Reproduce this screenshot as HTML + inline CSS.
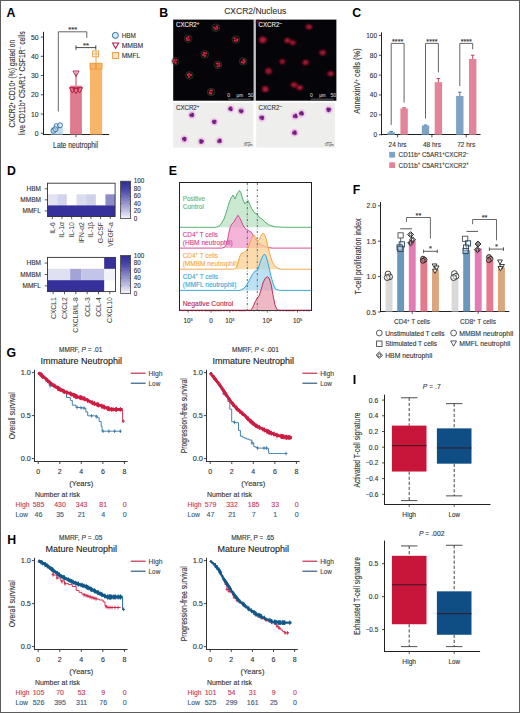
<!DOCTYPE html>
<html><head><meta charset="utf-8"><title>Figure</title>
<style>
html,body{margin:0;padding:0;background:#fff;}
body{width:520px;height:713px;overflow:hidden;}
svg{display:block;font-family:"Liberation Sans",sans-serif;}
</style></head><body>
<svg width="520" height="713" viewBox="0 0 520 713">
<defs>
<linearGradient id="cbgrad" x1="0" y1="1" x2="0" y2="0">
<stop offset="0" stop-color="#f6f6fc"/><stop offset="0.25" stop-color="#b8b8de"/><stop offset="0.5" stop-color="#8282c4"/><stop offset="0.75" stop-color="#4c4aaa"/><stop offset="1" stop-color="#2e2a92"/>
</linearGradient>
<filter id="blur1" x="-5%" y="-5%" width="110%" height="110%"><feGaussianBlur stdDeviation="0.55"/></filter>
<filter id="blur3" x="-5%" y="-5%" width="110%" height="110%"><feGaussianBlur stdDeviation="1.0"/></filter>
<filter id="blur2" x="-5%" y="-5%" width="110%" height="110%"><feGaussianBlur stdDeviation="0.45"/></filter>
</defs>
<rect x="0" y="0" width="520" height="713" fill="#fff"/>
<text x="6.6" y="16.8" font-size="12.3" text-anchor="start" fill="#000" font-weight="bold"  style="">A</text>
<text x="159.2" y="16.7" font-size="12.3" text-anchor="start" fill="#000" font-weight="bold"  style="">B</text>
<text x="352.2" y="16.9" font-size="12.3" text-anchor="start" fill="#000" font-weight="bold"  style="">C</text>
<text x="7" y="174.9" font-size="12.3" text-anchor="start" fill="#000" font-weight="bold"  style="">D</text>
<text x="168.7" y="175" font-size="12.3" text-anchor="start" fill="#000" font-weight="bold"  style="">E</text>
<text x="352.8" y="193.9" font-size="12.3" text-anchor="start" fill="#000" font-weight="bold"  style="">F</text>
<text x="6.6" y="357.2" font-size="12.3" text-anchor="start" fill="#000" font-weight="bold"  style="">G</text>
<text x="7.2" y="544" font-size="12.3" text-anchor="start" fill="#000" font-weight="bold"  style="">H</text>
<text x="352.8" y="384" font-size="12.3" text-anchor="start" fill="#000" font-weight="bold"  style="">I</text>
<line x1="43.5" y1="31.8" x2="43.5" y2="134.9" stroke="#222" stroke-width="1.0" />
<line x1="43" y1="134.5" x2="109.2" y2="134.5" stroke="#222" stroke-width="1.0" />
<line x1="76" y1="134.5" x2="76" y2="137.2" stroke="#222" stroke-width="0.8" />
<line x1="40.8" y1="133.3" x2="43.5" y2="133.3" stroke="#222" stroke-width="0.8" />
<text x="38.6" y="135.8" font-size="6.9" text-anchor="end" fill="#333" font-weight="normal" stroke="#333" stroke-width="0.12" textLength="3.8" lengthAdjust="spacingAndGlyphs"  style="">0</text>
<line x1="40.8" y1="114.05" x2="43.5" y2="114.05" stroke="#222" stroke-width="0.8" />
<text x="38.6" y="116.55" font-size="6.9" text-anchor="end" fill="#333" font-weight="normal" stroke="#333" stroke-width="0.12" textLength="7.6" lengthAdjust="spacingAndGlyphs"  style="">10</text>
<line x1="40.8" y1="94.8" x2="43.5" y2="94.8" stroke="#222" stroke-width="0.8" />
<text x="38.6" y="97.3" font-size="6.9" text-anchor="end" fill="#333" font-weight="normal" stroke="#333" stroke-width="0.12" textLength="7.6" lengthAdjust="spacingAndGlyphs"  style="">20</text>
<line x1="40.8" y1="75.55" x2="43.5" y2="75.55" stroke="#222" stroke-width="0.8" />
<text x="38.6" y="78.05" font-size="6.9" text-anchor="end" fill="#333" font-weight="normal" stroke="#333" stroke-width="0.12" textLength="7.6" lengthAdjust="spacingAndGlyphs"  style="">30</text>
<line x1="40.8" y1="56.3" x2="43.5" y2="56.3" stroke="#222" stroke-width="0.8" />
<text x="38.6" y="58.8" font-size="6.9" text-anchor="end" fill="#333" font-weight="normal" stroke="#333" stroke-width="0.12" textLength="7.6" lengthAdjust="spacingAndGlyphs"  style="">40</text>
<line x1="40.8" y1="37.05" x2="43.5" y2="37.05" stroke="#222" stroke-width="0.8" />
<text x="38.6" y="39.55" font-size="6.9" text-anchor="end" fill="#333" font-weight="normal" stroke="#333" stroke-width="0.12" textLength="7.6" lengthAdjust="spacingAndGlyphs"  style="">50</text>
<text x="75.6" y="148.3" font-size="8.4" text-anchor="middle" fill="#333" font-weight="normal" stroke="#333" stroke-width="0.12" textLength="45" lengthAdjust="spacingAndGlyphs"  style="">Late neutrophil</text>
<text transform="translate(15.34,83.6) rotate(-90)" x="0" y="0" font-size="8.4" text-anchor="middle" fill="#333" stroke="#333" stroke-width="0.12" textLength="88" lengthAdjust="spacingAndGlyphs">CXCR2<tspan dy="-2.8" font-size="5.2">+</tspan><tspan dy="2.8"> CD10</tspan><tspan dy="-2.8" font-size="5.2">+</tspan><tspan dy="2.8"> (%) gated on</tspan></text>
<text transform="translate(24.54,83.2) rotate(-90)" x="0" y="0" font-size="8.4" text-anchor="middle" fill="#333" stroke="#333" stroke-width="0.12" textLength="104" lengthAdjust="spacingAndGlyphs">live CD11b<tspan dy="-2.8" font-size="5.2">+</tspan><tspan dy="2.8"> C5AR1</tspan><tspan dy="-2.8" font-size="5.2">+</tspan><tspan dy="2.8"> CSF1R</tspan><tspan dy="-2.8" font-size="5.2">−</tspan><tspan dy="2.8"> cells</tspan></text>
<rect x="51" y="127.33" width="11.8" height="7.17" fill="#c2dbee" stroke="none" stroke-width="0.8" />
<rect x="70.1" y="85.6" width="11.8" height="48.9" fill="#e07a8d" stroke="none" stroke-width="0.8" />
<rect x="90" y="63" width="12.1" height="71.5" fill="#f8b467" stroke="none" stroke-width="0.8" />
<line x1="76" y1="85.6" x2="76" y2="72" stroke="#c0304d" stroke-width="0.9" />
<line x1="96" y1="63" x2="96" y2="51" stroke="#f0a040" stroke-width="0.9" />
<circle cx="53.4" cy="130.8" r="2.5" fill="#cfe4f3" fill-opacity="0.55" stroke="#2d6da6" stroke-width="0.9"/>
<circle cx="56.6" cy="126.2" r="2.5" fill="#cfe4f3" fill-opacity="0.55" stroke="#2d6da6" stroke-width="0.9"/>
<circle cx="60" cy="125.3" r="2.5" fill="#cfe4f3" fill-opacity="0.55" stroke="#2d6da6" stroke-width="0.9"/>
<circle cx="55.4" cy="129.2" r="2.5" fill="#cfe4f3" fill-opacity="0.55" stroke="#2d6da6" stroke-width="0.9"/>
<path d="M73,71.05 L79,71.05 L76,76.45Z" stroke="#b81e44" fill="none" stroke-width="1.0" />
<path d="M69.4,87.65 L75.4,87.65 L72.4,93.05Z" stroke="#b81e44" fill="none" stroke-width="1.0" />
<path d="M73,88.45 L79,88.45 L76,93.85Z" stroke="#b81e44" fill="none" stroke-width="1.0" />
<path d="M76.6,87.65 L82.6,87.65 L79.6,93.05Z" stroke="#b81e44" fill="none" stroke-width="1.0" />
<rect x="92.6" y="51" width="6" height="5.8" fill="none" stroke="#ee9a3c" stroke-width="0.9" />
<rect x="90" y="63.3" width="6" height="5.8" fill="none" stroke="#ee9a3c" stroke-width="0.9" />
<rect x="96" y="63.3" width="6" height="5.8" fill="none" stroke="#ee9a3c" stroke-width="0.9" />
<line x1="92.6" y1="53.9" x2="98.6" y2="53.9" stroke="#ee9a3c" stroke-width="0.8" />
<path d="M58.3,111.5 L58.3,31.8 L86.8,31.8 L86.8,37.9" stroke="#555" fill="none" stroke-width="0.9" />
<text x="72.7" y="32.2" font-size="7.6" text-anchor="middle" fill="#333" font-weight="normal" stroke="#333" stroke-width="0.12"  style="">***</text>
<line x1="76" y1="47.6" x2="95.8" y2="47.6" stroke="#333" stroke-width="0.9" />
<line x1="76" y1="45.4" x2="76" y2="49.8" stroke="#333" stroke-width="0.9" />
<line x1="95.8" y1="45.4" x2="95.8" y2="49.8" stroke="#333" stroke-width="0.9" />
<text x="86" y="48" font-size="7.6" text-anchor="middle" fill="#333" font-weight="normal" stroke="#333" stroke-width="0.12"  style="">**</text>
<circle cx="115.4" cy="35.4" r="3.0" fill="#d4ecf8" stroke="#2a6a9a" stroke-width="1.0"/>
<path d="M112.6,43.05 L118.6,43.05 L115.6,48.45Z" stroke="#b02048" fill="none" stroke-width="1.1" />
<rect x="112.6" y="52.5" width="6" height="6" fill="#fde3c4" stroke="#f0a048" stroke-width="1.0" />
<text x="121.7" y="37.8" font-size="7.0" text-anchor="start" fill="#333" font-weight="normal" stroke="#333" stroke-width="0.12" textLength="14.3" lengthAdjust="spacingAndGlyphs"  style="">HBM</text>
<text x="121.7" y="47.8" font-size="7.0" text-anchor="start" fill="#333" font-weight="normal" stroke="#333" stroke-width="0.12" textLength="21.5" lengthAdjust="spacingAndGlyphs"  style="">MMBM</text>
<text x="121.7" y="58.3" font-size="7.0" text-anchor="start" fill="#333" font-weight="normal" stroke="#333" stroke-width="0.12" textLength="18.5" lengthAdjust="spacingAndGlyphs"  style="">MMFL</text>
<text x="255.2" y="14.3" font-size="8.6" text-anchor="middle" fill="#333" font-weight="normal" stroke="#333" stroke-width="0.12" textLength="62" lengthAdjust="spacingAndGlyphs"  style="">CXCR2/Nucleus</text>
<rect x="253.4" y="19.6" width="2.6" height="81.2" fill="#c4c4c4" stroke="none" stroke-width="0.8" />
<rect x="173.2" y="19.6" width="80.4" height="81.1" fill="#050409" stroke="none" stroke-width="0.8" />
<rect x="255.9" y="19.6" width="80.5" height="81.1" fill="#050409" stroke="none" stroke-width="0.8" />
<rect x="173.2" y="102.6" width="80.2" height="45" fill="#eeeeec" stroke="none" stroke-width="0.8" />
<rect x="256.2" y="102.6" width="78.7" height="45" fill="#eeeeec" stroke="none" stroke-width="0.8" />
<circle cx="239.44" cy="36.81" r="0.94" fill="#2a0406" opacity="0.16"/>
<circle cx="297.1" cy="40.84" r="1.11" fill="#2a0406" opacity="0.23"/>
<circle cx="261.26" cy="95.13" r="1.19" fill="#2a0406" opacity="0.19"/>
<circle cx="273.34" cy="38.12" r="1.52" fill="#2a0406" opacity="0.18"/>
<circle cx="236.87" cy="74.91" r="0.92" fill="#2a0406" opacity="0.23"/>
<circle cx="311.69" cy="47.77" r="1.56" fill="#2a0406" opacity="0.2"/>
<circle cx="299.46" cy="58.05" r="1.12" fill="#2a0406" opacity="0.16"/>
<circle cx="175.23" cy="37.1" r="1.59" fill="#2a0406" opacity="0.21"/>
<circle cx="248.86" cy="92.12" r="1.28" fill="#2a0406" opacity="0.28"/>
<circle cx="231.92" cy="38.05" r="1.54" fill="#2a0406" opacity="0.15"/>
<circle cx="302.28" cy="68.04" r="1.59" fill="#2a0406" opacity="0.27"/>
<circle cx="280.97" cy="23.93" r="0.82" fill="#2a0406" opacity="0.2"/>
<circle cx="306.79" cy="27.41" r="1.14" fill="#2a0406" opacity="0.13"/>
<circle cx="224.19" cy="21.45" r="1.06" fill="#2a0406" opacity="0.2"/>
<circle cx="206.53" cy="83.19" r="0.84" fill="#2a0406" opacity="0.15"/>
<circle cx="215.73" cy="52.92" r="1.41" fill="#2a0406" opacity="0.18"/>
<circle cx="286.59" cy="93.85" r="0.9" fill="#2a0406" opacity="0.26"/>
<circle cx="271.15" cy="80.03" r="1.29" fill="#2a0406" opacity="0.19"/>
<circle cx="189.63" cy="32.35" r="0.94" fill="#2a0406" opacity="0.15"/>
<circle cx="197.57" cy="37.4" r="1.25" fill="#2a0406" opacity="0.24"/>
<circle cx="303.27" cy="87.84" r="0.89" fill="#2a0406" opacity="0.25"/>
<circle cx="204.12" cy="26.72" r="1.03" fill="#2a0406" opacity="0.21"/>
<circle cx="181.72" cy="38.09" r="1.12" fill="#2a0406" opacity="0.25"/>
<circle cx="238.7" cy="53.71" r="1.1" fill="#2a0406" opacity="0.13"/>
<circle cx="316.49" cy="93.92" r="1.38" fill="#2a0406" opacity="0.18"/>
<circle cx="245.92" cy="45.6" r="1.32" fill="#2a0406" opacity="0.22"/>
<circle cx="224.33" cy="90.06" r="1.38" fill="#2a0406" opacity="0.15"/>
<circle cx="305.1" cy="74.27" r="1" fill="#2a0406" opacity="0.17"/>
<circle cx="295.74" cy="27.33" r="1.15" fill="#2a0406" opacity="0.27"/>
<circle cx="215.51" cy="60.75" r="1.53" fill="#2a0406" opacity="0.26"/>
<circle cx="301.69" cy="63.13" r="1.54" fill="#2a0406" opacity="0.16"/>
<circle cx="316.82" cy="53.34" r="1.33" fill="#2a0406" opacity="0.22"/>
<circle cx="219.73" cy="74.58" r="1.28" fill="#2a0406" opacity="0.28"/>
<circle cx="282.02" cy="55.76" r="1.1" fill="#2a0406" opacity="0.26"/>
<circle cx="229.95" cy="73.7" r="1.36" fill="#2a0406" opacity="0.27"/>
<circle cx="205.31" cy="73.54" r="0.94" fill="#2a0406" opacity="0.22"/>
<circle cx="280.46" cy="79.7" r="1.49" fill="#2a0406" opacity="0.16"/>
<circle cx="313.4" cy="48.3" r="1.12" fill="#2a0406" opacity="0.14"/>
<circle cx="260.14" cy="21.1" r="1.05" fill="#2a0406" opacity="0.23"/>
<circle cx="295.1" cy="34.22" r="1.43" fill="#2a0406" opacity="0.19"/>
<g filter="url(#blur1)">
<circle cx="215.9" cy="27.7" r="3.8" fill="none" stroke="#3c7a46" stroke-width="0.7" opacity="0.6"/>
<ellipse cx="215.9" cy="27.7" rx="3" ry="3" fill="#3a050c" opacity="0.9"/>
<circle cx="216.99" cy="26.46" r="1.02" fill="#e2304e" opacity="0.9"/>
<circle cx="217.46" cy="28.23" r="1.02" fill="#e2304e" opacity="0.9"/>
<circle cx="215.85" cy="29.35" r="1.02" fill="#e2304e" opacity="0.9"/>
<circle cx="214.25" cy="27.81" r="1.02" fill="#e2304e" opacity="0.9"/>
<circle cx="215.8" cy="27.98" r="0.75" fill="#c02040" opacity="0.7"/>
<circle cx="188.2" cy="38.7" r="3.8" fill="none" stroke="#3c7a46" stroke-width="0.7" opacity="0.6"/>
<ellipse cx="188.2" cy="38.7" rx="3" ry="3" fill="#3a050c" opacity="0.9"/>
<circle cx="189.07" cy="40.1" r="1.02" fill="#e2304e" opacity="0.9"/>
<circle cx="187.07" cy="39.9" r="1.02" fill="#e2304e" opacity="0.9"/>
<circle cx="186.61" cy="38.24" r="1.02" fill="#e2304e" opacity="0.9"/>
<circle cx="188.49" cy="37.08" r="1.02" fill="#e2304e" opacity="0.9"/>
<circle cx="188.15" cy="38.85" r="0.75" fill="#c02040" opacity="0.7"/>
<circle cx="235.8" cy="39.5" r="3.8" fill="none" stroke="#3c7a46" stroke-width="0.7" opacity="0.6"/>
<ellipse cx="235.8" cy="39.5" rx="3" ry="3" fill="#3a050c" opacity="0.9"/>
<circle cx="237.45" cy="39.41" r="1.02" fill="#e2304e" opacity="0.9"/>
<circle cx="236.89" cy="40.74" r="1.02" fill="#e2304e" opacity="0.9"/>
<circle cx="234.81" cy="40.82" r="1.02" fill="#e2304e" opacity="0.9"/>
<circle cx="234.65" cy="38.32" r="1.02" fill="#e2304e" opacity="0.9"/>
<circle cx="236.04" cy="39.67" r="0.75" fill="#c02040" opacity="0.7"/>
<circle cx="204.8" cy="54.3" r="3.8" fill="none" stroke="#3c7a46" stroke-width="0.7" opacity="0.6"/>
<ellipse cx="204.8" cy="54.3" rx="3" ry="3" fill="#3a050c" opacity="0.9"/>
<circle cx="204.89" cy="55.95" r="1.02" fill="#e2304e" opacity="0.9"/>
<circle cx="203.26" cy="54.88" r="1.02" fill="#e2304e" opacity="0.9"/>
<circle cx="204.06" cy="52.83" r="1.02" fill="#e2304e" opacity="0.9"/>
<circle cx="206.09" cy="53.27" r="1.02" fill="#e2304e" opacity="0.9"/>
<circle cx="204.37" cy="53.81" r="0.75" fill="#c02040" opacity="0.7"/>
<circle cx="175.2" cy="61.3" r="3.8" fill="none" stroke="#3c7a46" stroke-width="0.7" opacity="0.6"/>
<ellipse cx="175.2" cy="61.3" rx="3" ry="3" fill="#3a050c" opacity="0.9"/>
<circle cx="175.67" cy="62.88" r="1.02" fill="#e2304e" opacity="0.9"/>
<circle cx="173.66" cy="61.88" r="1.02" fill="#e2304e" opacity="0.9"/>
<circle cx="174.13" cy="60.04" r="1.02" fill="#e2304e" opacity="0.9"/>
<circle cx="176.14" cy="59.94" r="1.02" fill="#e2304e" opacity="0.9"/>
<circle cx="175.1" cy="61.72" r="0.75" fill="#c02040" opacity="0.7"/>
<circle cx="218" cy="64.8" r="3.8" fill="none" stroke="#3c7a46" stroke-width="0.7" opacity="0.6"/>
<ellipse cx="218" cy="64.8" rx="3" ry="3" fill="#3a050c" opacity="0.9"/>
<circle cx="216.96" cy="63.52" r="1.02" fill="#e2304e" opacity="0.9"/>
<circle cx="219.06" cy="63.53" r="1.02" fill="#e2304e" opacity="0.9"/>
<circle cx="219.41" cy="65.66" r="1.02" fill="#e2304e" opacity="0.9"/>
<circle cx="217.63" cy="66.41" r="1.02" fill="#e2304e" opacity="0.9"/>
<circle cx="218.42" cy="64.33" r="0.75" fill="#c02040" opacity="0.7"/>
<circle cx="243.1" cy="61.3" r="3.8" fill="none" stroke="#3c7a46" stroke-width="0.7" opacity="0.6"/>
<ellipse cx="243.1" cy="61.3" rx="3" ry="3" fill="#3a050c" opacity="0.9"/>
<circle cx="243.79" cy="59.8" r="1.02" fill="#e2304e" opacity="0.9"/>
<circle cx="244.75" cy="61.37" r="1.02" fill="#e2304e" opacity="0.9"/>
<circle cx="243.57" cy="62.88" r="1.02" fill="#e2304e" opacity="0.9"/>
<circle cx="241.78" cy="62.29" r="1.02" fill="#e2304e" opacity="0.9"/>
<circle cx="243.26" cy="61.27" r="0.75" fill="#c02040" opacity="0.7"/>
<circle cx="189.4" cy="75.4" r="3.8" fill="none" stroke="#3c7a46" stroke-width="0.7" opacity="0.6"/>
<ellipse cx="189.4" cy="75.4" rx="3" ry="3" fill="#3a050c" opacity="0.9"/>
<circle cx="188.93" cy="76.98" r="1.02" fill="#e2304e" opacity="0.9"/>
<circle cx="187.83" cy="74.88" r="1.02" fill="#e2304e" opacity="0.9"/>
<circle cx="189.08" cy="73.78" r="1.02" fill="#e2304e" opacity="0.9"/>
<circle cx="191.02" cy="75.1" r="1.02" fill="#e2304e" opacity="0.9"/>
<circle cx="189.27" cy="74.96" r="0.75" fill="#c02040" opacity="0.7"/>
<circle cx="211.1" cy="92" r="3.8" fill="none" stroke="#3c7a46" stroke-width="0.7" opacity="0.6"/>
<ellipse cx="211.1" cy="92" rx="3" ry="3" fill="#3a050c" opacity="0.9"/>
<circle cx="210.96" cy="93.64" r="1.02" fill="#e2304e" opacity="0.9"/>
<circle cx="209.7" cy="92.87" r="1.02" fill="#e2304e" opacity="0.9"/>
<circle cx="210.33" cy="90.54" r="1.02" fill="#e2304e" opacity="0.9"/>
<circle cx="211.97" cy="90.6" r="1.02" fill="#e2304e" opacity="0.9"/>
<circle cx="210.85" cy="92.5" r="0.75" fill="#c02040" opacity="0.7"/>
</g>
<g filter="url(#blur3)">
<ellipse cx="308.9" cy="26.9" rx="3.3" ry="2.7" fill="#5a0814" opacity="0.9"/>
<circle cx="310.34" cy="26.21" r="1.23" fill="#d02642" opacity="0.8"/>
<circle cx="310.22" cy="27.57" r="1.23" fill="#d02642" opacity="0.8"/>
<circle cx="308.13" cy="28.03" r="0.96" fill="#d02642" opacity="0.8"/>
<circle cx="307.09" cy="26.97" r="0.94" fill="#d02642" opacity="0.8"/>
<circle cx="308.18" cy="25.43" r="1.06" fill="#d02642" opacity="0.8"/>
<ellipse cx="262.9" cy="39.8" rx="4.44" ry="3.33" fill="#5a0814" opacity="0.9"/>
<circle cx="263.73" cy="41.35" r="1.32" fill="#d02642" opacity="0.8"/>
<circle cx="261.75" cy="41.38" r="1.47" fill="#d02642" opacity="0.8"/>
<circle cx="261.16" cy="39.18" r="1.21" fill="#d02642" opacity="0.8"/>
<circle cx="262.51" cy="38.38" r="1.37" fill="#d02642" opacity="0.8"/>
<circle cx="264.84" cy="38.91" r="1.21" fill="#d02642" opacity="0.8"/>
<ellipse cx="287.2" cy="40.6" rx="3.3" ry="2.7" fill="#5a0814" opacity="0.9"/>
<circle cx="288.09" cy="40.18" r="1.26" fill="#d02642" opacity="0.8"/>
<circle cx="287.96" cy="41.31" r="1.13" fill="#d02642" opacity="0.8"/>
<circle cx="286.27" cy="41.92" r="0.98" fill="#d02642" opacity="0.8"/>
<circle cx="286.18" cy="39.94" r="1.12" fill="#d02642" opacity="0.8"/>
<circle cx="287.63" cy="39.24" r="1.23" fill="#d02642" opacity="0.8"/>
<ellipse cx="292.6" cy="42.6" rx="3.3" ry="2.7" fill="#5a0814" opacity="0.9"/>
<circle cx="294.29" cy="42.28" r="0.93" fill="#d02642" opacity="0.8"/>
<circle cx="293.5" cy="43.5" r="1.09" fill="#d02642" opacity="0.8"/>
<circle cx="292.34" cy="43.62" r="1.06" fill="#d02642" opacity="0.8"/>
<circle cx="291.24" cy="42.64" r="0.91" fill="#d02642" opacity="0.8"/>
<circle cx="291.93" cy="41.3" r="1.05" fill="#d02642" opacity="0.8"/>
<ellipse cx="322.7" cy="52.7" rx="3.72" ry="2.79" fill="#5a0814" opacity="0.9"/>
<circle cx="322.66" cy="51.63" r="1.3" fill="#d02642" opacity="0.8"/>
<circle cx="323.98" cy="51.72" r="0.96" fill="#d02642" opacity="0.8"/>
<circle cx="323.53" cy="53.48" r="1.19" fill="#d02642" opacity="0.8"/>
<circle cx="321.82" cy="54.03" r="1.09" fill="#d02642" opacity="0.8"/>
<circle cx="320.74" cy="52.25" r="0.97" fill="#d02642" opacity="0.8"/>
<ellipse cx="282.3" cy="61.6" rx="3" ry="2.7" fill="#5a0814" opacity="0.9"/>
<circle cx="280.97" cy="62.36" r="0.98" fill="#d02642" opacity="0.8"/>
<circle cx="281.25" cy="60.71" r="0.92" fill="#d02642" opacity="0.8"/>
<circle cx="282.75" cy="60.61" r="1.01" fill="#d02642" opacity="0.8"/>
<circle cx="283.61" cy="61.32" r="0.94" fill="#d02642" opacity="0.8"/>
<circle cx="282.86" cy="63.02" r="1.08" fill="#d02642" opacity="0.8"/>
<ellipse cx="305.7" cy="62.4" rx="3.3" ry="2.7" fill="#5a0814" opacity="0.9"/>
<circle cx="305.47" cy="61.37" r="1.12" fill="#d02642" opacity="0.8"/>
<circle cx="307.04" cy="61.56" r="1.18" fill="#d02642" opacity="0.8"/>
<circle cx="306.95" cy="63.24" r="1.08" fill="#d02642" opacity="0.8"/>
<circle cx="304.6" cy="63.67" r="1.26" fill="#d02642" opacity="0.8"/>
<circle cx="304.05" cy="62.07" r="1.18" fill="#d02642" opacity="0.8"/>
<ellipse cx="268.5" cy="71.3" rx="3.6" ry="3.24" fill="#5a0814" opacity="0.9"/>
<circle cx="267.54" cy="69.61" r="1.16" fill="#d02642" opacity="0.8"/>
<circle cx="269.12" cy="69.59" r="1.22" fill="#d02642" opacity="0.8"/>
<circle cx="270.27" cy="71.68" r="1.16" fill="#d02642" opacity="0.8"/>
<circle cx="268.18" cy="72.79" r="1.11" fill="#d02642" opacity="0.8"/>
<circle cx="266.91" cy="71.46" r="1.11" fill="#d02642" opacity="0.8"/>
<ellipse cx="330.7" cy="73.7" rx="3.72" ry="2.79" fill="#5a0814" opacity="0.9"/>
<circle cx="332.18" cy="74.35" r="1" fill="#d02642" opacity="0.8"/>
<circle cx="330.44" cy="74.97" r="1.09" fill="#d02642" opacity="0.8"/>
<circle cx="329.23" cy="73.83" r="1.24" fill="#d02642" opacity="0.8"/>
<circle cx="330.11" cy="72.74" r="0.94" fill="#d02642" opacity="0.8"/>
<circle cx="331.6" cy="73.03" r="1.3" fill="#d02642" opacity="0.8"/>
<ellipse cx="265.3" cy="89.1" rx="3.6" ry="3.24" fill="#5a0814" opacity="0.9"/>
<circle cx="263.5" cy="88.72" r="1.2" fill="#d02642" opacity="0.8"/>
<circle cx="265.28" cy="87.71" r="1.26" fill="#d02642" opacity="0.8"/>
<circle cx="266.47" cy="89.03" r="1.27" fill="#d02642" opacity="0.8"/>
<circle cx="266.33" cy="90.04" r="1.51" fill="#d02642" opacity="0.8"/>
<circle cx="264.54" cy="90.54" r="1.26" fill="#d02642" opacity="0.8"/>
<ellipse cx="294" cy="84.8" rx="3.88" ry="2.79" fill="#5a0814" opacity="0.9"/>
<circle cx="292.82" cy="84.69" r="1.17" fill="#d02642" opacity="0.8"/>
<circle cx="293.65" cy="83.71" r="1.08" fill="#d02642" opacity="0.8"/>
<circle cx="296.02" cy="84.28" r="1.1" fill="#d02642" opacity="0.8"/>
<circle cx="294.87" cy="86.35" r="1.02" fill="#d02642" opacity="0.8"/>
<circle cx="293.64" cy="85.81" r="1.24" fill="#d02642" opacity="0.8"/>
<ellipse cx="299.8" cy="87.8" rx="3.6" ry="2.7" fill="#5a0814" opacity="0.9"/>
<circle cx="301.22" cy="87.62" r="1.15" fill="#d02642" opacity="0.8"/>
<circle cx="300.32" cy="88.68" r="0.98" fill="#d02642" opacity="0.8"/>
<circle cx="298.69" cy="88.2" r="1.17" fill="#d02642" opacity="0.8"/>
<circle cx="298.95" cy="87.09" r="1.09" fill="#d02642" opacity="0.8"/>
<circle cx="300.27" cy="86.66" r="1.26" fill="#d02642" opacity="0.8"/>
<ellipse cx="258" cy="22" rx="1.7" ry="1.53" fill="#5a0814" opacity="0.9"/>
<circle cx="258.61" cy="22.2" r="0.69" fill="#d02642" opacity="0.8"/>
<circle cx="257.87" cy="22.81" r="0.53" fill="#d02642" opacity="0.8"/>
<circle cx="257.14" cy="22.13" r="0.62" fill="#d02642" opacity="0.8"/>
<circle cx="257.82" cy="21.13" r="0.59" fill="#d02642" opacity="0.8"/>
<circle cx="258.38" cy="21.26" r="0.54" fill="#d02642" opacity="0.8"/>
</g>
<g filter="url(#blur2)">
<circle cx="191.8" cy="114.9" r="4.3" fill="#f2cdea" opacity="0.85"/>
<circle cx="191.8" cy="114.9" r="2.6" fill="#c27ab8"/>
<circle cx="192.58" cy="114.14" r="1.2" fill="#6a1c80"/>
<circle cx="192.43" cy="115.79" r="1.2" fill="#6a1c80"/>
<circle cx="190.76" cy="115.24" r="1.2" fill="#6a1c80"/>
<circle cx="230.7" cy="108.8" r="4.3" fill="#f2cdea" opacity="0.85"/>
<circle cx="230.7" cy="108.8" r="2.6" fill="#c27ab8"/>
<circle cx="231.17" cy="109.78" r="1.2" fill="#6a1c80"/>
<circle cx="229.61" cy="108.89" r="1.2" fill="#6a1c80"/>
<circle cx="230.63" cy="107.71" r="1.2" fill="#6a1c80"/>
<circle cx="241.1" cy="110.9" r="4.3" fill="#f2cdea" opacity="0.85"/>
<circle cx="241.1" cy="110.9" r="2.6" fill="#c27ab8"/>
<circle cx="242.19" cy="110.99" r="1.2" fill="#6a1c80"/>
<circle cx="241.32" cy="111.97" r="1.2" fill="#6a1c80"/>
<circle cx="240.04" cy="110.63" r="1.2" fill="#6a1c80"/>
<circle cx="214.3" cy="121.8" r="4.3" fill="#f2cdea" opacity="0.85"/>
<circle cx="214.3" cy="121.8" r="2.6" fill="#c27ab8"/>
<circle cx="214.34" cy="122.89" r="1.2" fill="#6a1c80"/>
<circle cx="213.24" cy="121.53" r="1.2" fill="#6a1c80"/>
<circle cx="215.13" cy="121.09" r="1.2" fill="#6a1c80"/>
<circle cx="184.4" cy="139.1" r="4.3" fill="#f2cdea" opacity="0.85"/>
<circle cx="184.4" cy="139.1" r="2.6" fill="#c27ab8"/>
<circle cx="184.83" cy="140.1" r="1.2" fill="#6a1c80"/>
<circle cx="183.34" cy="138.82" r="1.2" fill="#6a1c80"/>
<circle cx="184.92" cy="138.14" r="1.2" fill="#6a1c80"/>
<circle cx="201.3" cy="141.4" r="4.3" fill="#f2cdea" opacity="0.85"/>
<circle cx="201.3" cy="141.4" r="2.6" fill="#c27ab8"/>
<circle cx="200.68" cy="140.5" r="1.2" fill="#6a1c80"/>
<circle cx="202.38" cy="141.25" r="1.2" fill="#6a1c80"/>
<circle cx="200.86" cy="142.4" r="1.2" fill="#6a1c80"/>
<circle cx="219.5" cy="140.8" r="4.3" fill="#f2cdea" opacity="0.85"/>
<circle cx="219.5" cy="140.8" r="2.6" fill="#c27ab8"/>
<circle cx="220.05" cy="139.86" r="1.2" fill="#6a1c80"/>
<circle cx="220.34" cy="141.49" r="1.2" fill="#6a1c80"/>
<circle cx="218.62" cy="141.45" r="1.2" fill="#6a1c80"/>
<circle cx="261.8" cy="117.8" r="4.4" fill="#f2cdea" opacity="0.85"/>
<circle cx="261.8" cy="117.8" r="2.7" fill="#c27ab8"/>
<circle cx="260.75" cy="117.37" r="1.24" fill="#6a1c80"/>
<circle cx="262.71" cy="117.13" r="1.24" fill="#6a1c80"/>
<circle cx="262.34" cy="118.79" r="1.24" fill="#6a1c80"/>
<circle cx="295.3" cy="116.1" r="4.4" fill="#f2cdea" opacity="0.85"/>
<circle cx="295.3" cy="116.1" r="2.7" fill="#c27ab8"/>
<circle cx="294.2" cy="116.38" r="1.24" fill="#6a1c80"/>
<circle cx="295.81" cy="115.09" r="1.24" fill="#6a1c80"/>
<circle cx="296.28" cy="116.67" r="1.24" fill="#6a1c80"/>
<circle cx="301.4" cy="113.5" r="4.4" fill="#f2cdea" opacity="0.85"/>
<circle cx="301.4" cy="113.5" r="2.7" fill="#c27ab8"/>
<circle cx="300.27" cy="113.54" r="1.24" fill="#6a1c80"/>
<circle cx="301.84" cy="112.46" r="1.24" fill="#6a1c80"/>
<circle cx="302.44" cy="113.95" r="1.24" fill="#6a1c80"/>
<circle cx="328.7" cy="109.7" r="4.4" fill="#f2cdea" opacity="0.85"/>
<circle cx="328.7" cy="109.7" r="2.7" fill="#c27ab8"/>
<circle cx="328.47" cy="110.81" r="1.24" fill="#6a1c80"/>
<circle cx="327.79" cy="109.03" r="1.24" fill="#6a1c80"/>
<circle cx="329.75" cy="109.28" r="1.24" fill="#6a1c80"/>
<circle cx="294.6" cy="132.7" r="4.4" fill="#f2cdea" opacity="0.85"/>
<circle cx="294.6" cy="132.7" r="2.7" fill="#c27ab8"/>
<circle cx="295.36" cy="133.54" r="1.24" fill="#6a1c80"/>
<circle cx="293.53" cy="133.09" r="1.24" fill="#6a1c80"/>
<circle cx="294.95" cy="131.62" r="1.24" fill="#6a1c80"/>
</g>
<text x="176" y="27.1" font-size="7.0" text-anchor="start" fill="#f0f0f0" font-weight="normal" stroke="#f0f0f0" stroke-width="0.12" textLength="23.4" lengthAdjust="spacingAndGlyphs"  style="">CXCR2<tspan dy="-2.6" font-size="5.2">+</tspan></text>
<text x="258.6" y="27.1" font-size="7.0" text-anchor="start" fill="#f0f0f0" font-weight="normal" stroke="#f0f0f0" stroke-width="0.12" textLength="23.4" lengthAdjust="spacingAndGlyphs"  style="">CXCR2<tspan dy="-2.6" font-size="5.2">−</tspan></text>
<text x="176" y="110.1" font-size="7.0" text-anchor="start" fill="#333" font-weight="normal" stroke="#333" stroke-width="0.12" textLength="23.4" lengthAdjust="spacingAndGlyphs"  style="">CXCR2<tspan dy="-2.6" font-size="5.2">+</tspan></text>
<text x="258.6" y="110.1" font-size="7.0" text-anchor="start" fill="#333" font-weight="normal" stroke="#333" stroke-width="0.12" textLength="23.4" lengthAdjust="spacingAndGlyphs"  style="">CXCR2<tspan dy="-2.6" font-size="5.2">−</tspan></text>
<text x="227.3" y="97.3" font-size="5.0" text-anchor="start" fill="#bbb" font-weight="normal" stroke="#bbb" stroke-width="0.12"  style="">0</text>
<text x="236.5" y="97.3" font-size="4.6" text-anchor="start" fill="#bbb" font-weight="normal" stroke="#bbb" stroke-width="0.12"  style="">μm</text>
<text x="247.9" y="97.3" font-size="5.0" text-anchor="start" fill="#bbb" font-weight="normal" stroke="#bbb" stroke-width="0.12"  style="">50</text>
<line x1="228.1" y1="99.2" x2="250.9" y2="99.2" stroke="#999" stroke-width="0.6" />
<text x="310" y="97.3" font-size="5.0" text-anchor="start" fill="#bbb" font-weight="normal" stroke="#bbb" stroke-width="0.12"  style="">0</text>
<text x="319.2" y="97.3" font-size="4.6" text-anchor="start" fill="#bbb" font-weight="normal" stroke="#bbb" stroke-width="0.12"  style="">μm</text>
<text x="330.6" y="97.3" font-size="5.0" text-anchor="start" fill="#bbb" font-weight="normal" stroke="#bbb" stroke-width="0.12"  style="">50</text>
<line x1="310.8" y1="99.2" x2="333.6" y2="99.2" stroke="#999" stroke-width="0.6" />
<line x1="244.8" y1="142.7" x2="250.8" y2="142.7" stroke="#555" stroke-width="0.7" />
<text x="243.4" y="146.2" font-size="3.4" text-anchor="start" fill="#777" font-weight="normal" stroke="#777" stroke-width="0.12" textLength="9.2" lengthAdjust="spacingAndGlyphs"  style="">10 μm</text>
<line x1="326" y1="142.7" x2="332" y2="142.7" stroke="#555" stroke-width="0.7" />
<text x="324.6" y="146.2" font-size="3.4" text-anchor="start" fill="#777" font-weight="normal" stroke="#777" stroke-width="0.12" textLength="9.2" lengthAdjust="spacingAndGlyphs"  style="">10 μm</text>
<line x1="381.5" y1="32.3" x2="381.5" y2="135.2" stroke="#222" stroke-width="1.0" />
<line x1="381.2" y1="134.5" x2="480.5" y2="134.5" stroke="#222" stroke-width="1.0" />
<line x1="378.9" y1="134.7" x2="381.5" y2="134.7" stroke="#222" stroke-width="0.8" />
<text x="377" y="137.2" font-size="6.9" text-anchor="end" fill="#333" font-weight="normal" stroke="#333" stroke-width="0.12" textLength="3.6" lengthAdjust="spacingAndGlyphs"  style="">0</text>
<line x1="378.9" y1="114.84" x2="381.5" y2="114.84" stroke="#222" stroke-width="0.8" />
<text x="377" y="117.34" font-size="6.9" text-anchor="end" fill="#333" font-weight="normal" stroke="#333" stroke-width="0.12" textLength="7.2" lengthAdjust="spacingAndGlyphs"  style="">20</text>
<line x1="378.9" y1="94.98" x2="381.5" y2="94.98" stroke="#222" stroke-width="0.8" />
<text x="377" y="97.48" font-size="6.9" text-anchor="end" fill="#333" font-weight="normal" stroke="#333" stroke-width="0.12" textLength="7.2" lengthAdjust="spacingAndGlyphs"  style="">40</text>
<line x1="378.9" y1="75.12" x2="381.5" y2="75.12" stroke="#222" stroke-width="0.8" />
<text x="377" y="77.62" font-size="6.9" text-anchor="end" fill="#333" font-weight="normal" stroke="#333" stroke-width="0.12" textLength="7.2" lengthAdjust="spacingAndGlyphs"  style="">60</text>
<line x1="378.9" y1="55.26" x2="381.5" y2="55.26" stroke="#222" stroke-width="0.8" />
<text x="377" y="57.76" font-size="6.9" text-anchor="end" fill="#333" font-weight="normal" stroke="#333" stroke-width="0.12" textLength="7.2" lengthAdjust="spacingAndGlyphs"  style="">80</text>
<line x1="378.9" y1="35.4" x2="381.5" y2="35.4" stroke="#222" stroke-width="0.8" />
<text x="377" y="37.9" font-size="6.9" text-anchor="end" fill="#333" font-weight="normal" stroke="#333" stroke-width="0.12" textLength="10.7" lengthAdjust="spacingAndGlyphs"  style="">100</text>
<text transform="translate(360.27,81) rotate(-90)" x="0" y="0" font-size="8.2" text-anchor="middle" fill="#333" stroke="#333" stroke-width="0.12" textLength="65.5" lengthAdjust="spacingAndGlyphs">AnnexinV<tspan dy="-2.6" font-size="5">+</tspan><tspan dy="2.6"> cells (%)</tspan></text>
<rect x="387.5" y="132.22" width="7.4" height="2.48" fill="#7ea3c4" stroke="none" stroke-width="0.8" />
<rect x="400.4" y="108.39" width="7.4" height="26.31" fill="#e3849a" stroke="none" stroke-width="0.8" />
<line x1="391.2" y1="132.22" x2="391.2" y2="131.42" stroke="#3d6d98" stroke-width="0.9" />
<line x1="389.4" y1="131.42" x2="393" y2="131.42" stroke="#3d6d98" stroke-width="0.9" />
<line x1="404.1" y1="108.39" x2="404.1" y2="107.79" stroke="#b83450" stroke-width="0.9" />
<line x1="402.3" y1="107.79" x2="405.9" y2="107.79" stroke="#b83450" stroke-width="0.9" />
<line x1="397.6" y1="134.7" x2="397.6" y2="137.4" stroke="#222" stroke-width="0.8" />
<text x="397.6" y="146.9" font-size="7.2" text-anchor="middle" fill="#333" font-weight="normal" stroke="#333" stroke-width="0.12" textLength="18" lengthAdjust="spacingAndGlyphs"  style="">24 hrs</text>
<path d="M391.2,124.97 L391.2,43.4 L404.1,43.4 L404.1,102.6" stroke="#555" fill="none" stroke-width="0.9" />
<text x="397.65" y="44" font-size="7.2" text-anchor="middle" fill="#333" font-weight="normal" stroke="#333" stroke-width="0.12"  style="">****</text>
<rect x="421.8" y="125.47" width="7.4" height="9.23" fill="#7ea3c4" stroke="none" stroke-width="0.8" />
<rect x="434.7" y="82.17" width="7.4" height="52.53" fill="#e3849a" stroke="none" stroke-width="0.8" />
<line x1="425.5" y1="125.47" x2="425.5" y2="124.97" stroke="#3d6d98" stroke-width="0.9" />
<line x1="423.7" y1="124.97" x2="427.3" y2="124.97" stroke="#3d6d98" stroke-width="0.9" />
<line x1="438.4" y1="82.17" x2="438.4" y2="78.5" stroke="#b83450" stroke-width="0.9" />
<line x1="436.6" y1="78.5" x2="440.2" y2="78.5" stroke="#b83450" stroke-width="0.9" />
<line x1="431.9" y1="134.7" x2="431.9" y2="137.4" stroke="#222" stroke-width="0.8" />
<text x="431.9" y="146.9" font-size="7.2" text-anchor="middle" fill="#333" font-weight="normal" stroke="#333" stroke-width="0.12" textLength="18" lengthAdjust="spacingAndGlyphs"  style="">48 hrs</text>
<path d="M425.5,118.61 L425.5,43.4 L438.4,43.4 L438.4,72.3" stroke="#555" fill="none" stroke-width="0.9" />
<text x="431.95" y="44" font-size="7.2" text-anchor="middle" fill="#333" font-weight="normal" stroke="#333" stroke-width="0.12"  style="">****</text>
<rect x="456.1" y="95.97" width="7.4" height="38.73" fill="#7ea3c4" stroke="none" stroke-width="0.8" />
<rect x="469" y="58.93" width="7.4" height="75.77" fill="#e3849a" stroke="none" stroke-width="0.8" />
<line x1="459.8" y1="95.97" x2="459.8" y2="92.2" stroke="#3d6d98" stroke-width="0.9" />
<line x1="458" y1="92.2" x2="461.6" y2="92.2" stroke="#3d6d98" stroke-width="0.9" />
<line x1="472.7" y1="58.93" x2="472.7" y2="55.26" stroke="#b83450" stroke-width="0.9" />
<line x1="470.9" y1="55.26" x2="474.5" y2="55.26" stroke="#b83450" stroke-width="0.9" />
<line x1="466.2" y1="134.7" x2="466.2" y2="137.4" stroke="#222" stroke-width="0.8" />
<text x="466.2" y="146.9" font-size="7.2" text-anchor="middle" fill="#333" font-weight="normal" stroke="#333" stroke-width="0.12" textLength="18" lengthAdjust="spacingAndGlyphs"  style="">72 hrs</text>
<path d="M459.8,86.04 L459.8,43.4 L472.7,43.4 L472.7,49.2" stroke="#555" fill="none" stroke-width="0.9" />
<text x="466.25" y="44" font-size="7.2" text-anchor="middle" fill="#333" font-weight="normal" stroke="#333" stroke-width="0.12"  style="">****</text>
<rect x="389.2" y="151.9" width="5.9" height="5.7" fill="#7ea3c4" stroke="none" stroke-width="0.8" />
<rect x="389.2" y="162.3" width="5.9" height="5.7" fill="#e3849a" stroke="none" stroke-width="0.8" />
<text x="398.6" y="157.4" font-size="7.0" text-anchor="start" fill="#333" font-weight="normal" stroke="#333" stroke-width="0.12" textLength="70" lengthAdjust="spacingAndGlyphs"  style="">CD11b<tspan dy="-2.5" font-size="4.6">+</tspan><tspan dy="2.5"> C5AR1</tspan><tspan dy="-2.5" font-size="4.6">+</tspan><tspan dy="2.5">CXCR2</tspan><tspan dy="-2.5" font-size="4.6">−</tspan><tspan dy="2.5"></tspan></text>
<text x="398.6" y="167.8" font-size="7.0" text-anchor="start" fill="#333" font-weight="normal" stroke="#333" stroke-width="0.12" textLength="70" lengthAdjust="spacingAndGlyphs"  style="">CD11b<tspan dy="-2.5" font-size="4.6">+</tspan><tspan dy="2.5"> C5AR1</tspan><tspan dy="-2.5" font-size="4.6">+</tspan><tspan dy="2.5">CXCR2</tspan><tspan dy="-2.5" font-size="4.6">+</tspan><tspan dy="2.5"></tspan></text>
<rect x="47.5" y="194.3" width="9.66" height="11.4" fill="#e2e2f2" stroke="none" stroke-width="0.8" />
<rect x="57.16" y="194.3" width="9.66" height="11.4" fill="#d2d3ee" stroke="none" stroke-width="0.8" />
<rect x="76.47" y="194.3" width="9.66" height="11.4" fill="#dcdcf0" stroke="none" stroke-width="0.8" />
<rect x="86.13" y="194.3" width="9.66" height="11.4" fill="#cfd0ea" stroke="none" stroke-width="0.8" />
<rect x="105.44" y="194.3" width="9.66" height="11.4" fill="#8c8cc8" stroke="none" stroke-width="0.8" />
<rect x="47.5" y="205.4" width="67.6" height="11.4" fill="#36309c" stroke="none" stroke-width="0.8" />
<rect x="47.5" y="183.2" width="67.6" height="33.3" fill="none" stroke="#333" stroke-width="0.9" />
<line x1="44.7" y1="188.75" x2="47.5" y2="188.75" stroke="#333" stroke-width="0.8" />
<text x="40.9" y="191.05" font-size="6.5" text-anchor="end" fill="#333" font-weight="normal" stroke="#333" stroke-width="0.12"  style="">HBM</text>
<line x1="44.7" y1="199.85" x2="47.5" y2="199.85" stroke="#333" stroke-width="0.8" />
<text x="40.9" y="202.15" font-size="6.5" text-anchor="end" fill="#333" font-weight="normal" stroke="#333" stroke-width="0.12"  style="">MMBM</text>
<line x1="44.7" y1="210.95" x2="47.5" y2="210.95" stroke="#333" stroke-width="0.8" />
<text x="40.9" y="213.25" font-size="6.5" text-anchor="end" fill="#333" font-weight="normal" stroke="#333" stroke-width="0.12"  style="">MMFL</text>
<line x1="52.33" y1="216.5" x2="52.33" y2="219.1" stroke="#333" stroke-width="0.8" />
<text transform="translate(54.73,222.1) rotate(-90)" font-size="6.8" text-anchor="end" fill="#333">IL-6</text>
<line x1="61.99" y1="216.5" x2="61.99" y2="219.1" stroke="#333" stroke-width="0.8" />
<text transform="translate(64.39,222.1) rotate(-90)" font-size="6.8" text-anchor="end" fill="#333">IL-1α</text>
<line x1="71.64" y1="216.5" x2="71.64" y2="219.1" stroke="#333" stroke-width="0.8" />
<text transform="translate(74.04,222.1) rotate(-90)" font-size="6.8" text-anchor="end" fill="#333">IL-10</text>
<line x1="81.3" y1="216.5" x2="81.3" y2="219.1" stroke="#333" stroke-width="0.8" />
<text transform="translate(83.7,222.1) rotate(-90)" font-size="6.8" text-anchor="end" fill="#333">IFN-α2</text>
<line x1="90.96" y1="216.5" x2="90.96" y2="219.1" stroke="#333" stroke-width="0.8" />
<text transform="translate(93.36,222.1) rotate(-90)" font-size="6.8" text-anchor="end" fill="#333">IL-1β</text>
<line x1="100.61" y1="216.5" x2="100.61" y2="219.1" stroke="#333" stroke-width="0.8" />
<text transform="translate(103.01,222.1) rotate(-90)" font-size="6.8" text-anchor="end" fill="#333">G-CSF</text>
<line x1="110.27" y1="216.5" x2="110.27" y2="219.1" stroke="#333" stroke-width="0.8" />
<text transform="translate(112.67,222.1) rotate(-90)" font-size="6.8" text-anchor="end" fill="#333">VEGF-a</text>
<rect x="120.6" y="181.2" width="10" height="37.4" fill="url(#cbgrad)" stroke="#444" stroke-width="0.8"/>
<text x="133.8" y="220.8" font-size="6.3" text-anchor="start" fill="#333" font-weight="normal" stroke="#333" stroke-width="0.12"  style="">0</text>
<line x1="120.6" y1="211.12" x2="121.8" y2="211.12" stroke="#333" stroke-width="0.5" />
<line x1="129.4" y1="211.12" x2="130.6" y2="211.12" stroke="#333" stroke-width="0.5" />
<text x="133.8" y="213.32" font-size="6.3" text-anchor="start" fill="#333" font-weight="normal" stroke="#333" stroke-width="0.12"  style="">20</text>
<line x1="120.6" y1="203.64" x2="121.8" y2="203.64" stroke="#333" stroke-width="0.5" />
<line x1="129.4" y1="203.64" x2="130.6" y2="203.64" stroke="#333" stroke-width="0.5" />
<text x="133.8" y="205.84" font-size="6.3" text-anchor="start" fill="#333" font-weight="normal" stroke="#333" stroke-width="0.12"  style="">40</text>
<line x1="120.6" y1="196.16" x2="121.8" y2="196.16" stroke="#333" stroke-width="0.5" />
<line x1="129.4" y1="196.16" x2="130.6" y2="196.16" stroke="#333" stroke-width="0.5" />
<text x="133.8" y="198.36" font-size="6.3" text-anchor="start" fill="#333" font-weight="normal" stroke="#333" stroke-width="0.12"  style="">60</text>
<line x1="120.6" y1="188.68" x2="121.8" y2="188.68" stroke="#333" stroke-width="0.5" />
<line x1="129.4" y1="188.68" x2="130.6" y2="188.68" stroke="#333" stroke-width="0.5" />
<text x="133.8" y="190.88" font-size="6.3" text-anchor="start" fill="#333" font-weight="normal" stroke="#333" stroke-width="0.12"  style="">80</text>
<text x="133.8" y="183.4" font-size="6.3" text-anchor="start" fill="#333" font-weight="normal" stroke="#333" stroke-width="0.12"  style="">100</text>
<rect x="104.17" y="257.4" width="11.33" height="11.7" fill="#36309c" stroke="none" stroke-width="0.8" />
<rect x="47.5" y="268.8" width="22.67" height="11.7" fill="#dfe0f2" stroke="none" stroke-width="0.8" />
<rect x="70.17" y="268.8" width="11.33" height="11.7" fill="#a2a4d6" stroke="none" stroke-width="0.8" />
<rect x="81.5" y="268.8" width="22.67" height="11.7" fill="#c3c5e8" stroke="none" stroke-width="0.8" />
<rect x="104.17" y="268.8" width="11.33" height="11.7" fill="#f2f2fa" stroke="none" stroke-width="0.8" />
<rect x="47.5" y="280.2" width="56.67" height="11.7" fill="#36309c" stroke="none" stroke-width="0.8" />
<rect x="47.5" y="257.4" width="68" height="34.2" fill="none" stroke="#333" stroke-width="0.9" />
<line x1="44.7" y1="263.1" x2="47.5" y2="263.1" stroke="#333" stroke-width="0.8" />
<text x="40.9" y="265.4" font-size="6.5" text-anchor="end" fill="#333" font-weight="normal" stroke="#333" stroke-width="0.12"  style="">HBM</text>
<line x1="44.7" y1="274.5" x2="47.5" y2="274.5" stroke="#333" stroke-width="0.8" />
<text x="40.9" y="276.8" font-size="6.5" text-anchor="end" fill="#333" font-weight="normal" stroke="#333" stroke-width="0.12"  style="">MMBM</text>
<line x1="44.7" y1="285.9" x2="47.5" y2="285.9" stroke="#333" stroke-width="0.8" />
<text x="40.9" y="288.2" font-size="6.5" text-anchor="end" fill="#333" font-weight="normal" stroke="#333" stroke-width="0.12"  style="">MMFL</text>
<line x1="53.17" y1="291.6" x2="53.17" y2="294.2" stroke="#333" stroke-width="0.8" />
<text transform="translate(55.57,297.2) rotate(-90)" font-size="6.8" text-anchor="end" fill="#333">CXCL1</text>
<line x1="64.5" y1="291.6" x2="64.5" y2="294.2" stroke="#333" stroke-width="0.8" />
<text transform="translate(66.9,297.2) rotate(-90)" font-size="6.8" text-anchor="end" fill="#333">CXCL2</text>
<line x1="75.83" y1="291.6" x2="75.83" y2="294.2" stroke="#333" stroke-width="0.8" />
<text transform="translate(78.23,297.2) rotate(-90)" font-size="6.8" text-anchor="end" fill="#333">CXCL8/IL-8</text>
<line x1="87.17" y1="291.6" x2="87.17" y2="294.2" stroke="#333" stroke-width="0.8" />
<text transform="translate(89.57,297.2) rotate(-90)" font-size="6.8" text-anchor="end" fill="#333">CCL-3</text>
<line x1="98.5" y1="291.6" x2="98.5" y2="294.2" stroke="#333" stroke-width="0.8" />
<text transform="translate(100.9,297.2) rotate(-90)" font-size="6.8" text-anchor="end" fill="#333">CCL-4</text>
<line x1="109.83" y1="291.6" x2="109.83" y2="294.2" stroke="#333" stroke-width="0.8" />
<text transform="translate(112.23,297.2) rotate(-90)" font-size="6.8" text-anchor="end" fill="#333">CXCL10</text>
<rect x="120.6" y="255.4" width="10" height="38" fill="url(#cbgrad)" stroke="#444" stroke-width="0.8"/>
<text x="133.8" y="295.6" font-size="6.3" text-anchor="start" fill="#333" font-weight="normal" stroke="#333" stroke-width="0.12"  style="">0</text>
<line x1="120.6" y1="285.8" x2="121.8" y2="285.8" stroke="#333" stroke-width="0.5" />
<line x1="129.4" y1="285.8" x2="130.6" y2="285.8" stroke="#333" stroke-width="0.5" />
<text x="133.8" y="288" font-size="6.3" text-anchor="start" fill="#333" font-weight="normal" stroke="#333" stroke-width="0.12"  style="">20</text>
<line x1="120.6" y1="278.2" x2="121.8" y2="278.2" stroke="#333" stroke-width="0.5" />
<line x1="129.4" y1="278.2" x2="130.6" y2="278.2" stroke="#333" stroke-width="0.5" />
<text x="133.8" y="280.4" font-size="6.3" text-anchor="start" fill="#333" font-weight="normal" stroke="#333" stroke-width="0.12"  style="">40</text>
<line x1="120.6" y1="270.6" x2="121.8" y2="270.6" stroke="#333" stroke-width="0.5" />
<line x1="129.4" y1="270.6" x2="130.6" y2="270.6" stroke="#333" stroke-width="0.5" />
<text x="133.8" y="272.8" font-size="6.3" text-anchor="start" fill="#333" font-weight="normal" stroke="#333" stroke-width="0.12"  style="">60</text>
<line x1="120.6" y1="263" x2="121.8" y2="263" stroke="#333" stroke-width="0.5" />
<line x1="129.4" y1="263" x2="130.6" y2="263" stroke="#333" stroke-width="0.5" />
<text x="133.8" y="265.2" font-size="6.3" text-anchor="start" fill="#333" font-weight="normal" stroke="#333" stroke-width="0.12"  style="">80</text>
<text x="133.8" y="257.6" font-size="6.3" text-anchor="start" fill="#333" font-weight="normal" stroke="#333" stroke-width="0.12"  style="">100</text>
<rect x="179.5" y="182.5" width="132" height="128" fill="none" stroke="#222" stroke-width="1.0" />
<path d="M179.9,227.3 L216,227.3 L220,225.5 L224,219 L227,210 L229,203 L231,198 L233,195 L235,199 L237,194 L239.6,190.4 L241,193 L243,200 L245,204 L246.5,202 L248,200.5 L250,205 L252,209 L254,212.5 L257,214 L259,217 L262,219 L265,222 L269,225 L275,226.8 L285,227.3 L311,227.3 L311,227.3 L179.9,227.3Z" stroke="none" fill="#b9e0c2" stroke-width="0.8" fill-opacity="0.75"/>
<path d="M179.9,227.3 L216,227.3 L220,225.5 L224,219 L227,210 L229,203 L231,198 L233,195 L235,199 L237,194 L239.6,190.4 L241,193 L243,200 L245,204 L246.5,202 L248,200.5 L250,205 L252,209 L254,212.5 L257,214 L259,217 L262,219 L265,222 L269,225 L275,226.8 L285,227.3 L311,227.3" stroke="#48a866" fill="none" stroke-width="0.9" stroke-linejoin="round"/>
<path d="M179.9,248.1 L222,248.1 L224.5,247.2 L226,245 L227.5,240 L229,232 L230.4,226.5 L232,223.8 L233.5,222.5 L235,220 L236.5,217.3 L238,215.3 L239.5,217.5 L241.2,221 L242.7,224.5 L244.2,227.3 L246.5,229.6 L248.5,230.6 L250.4,231.5 L252.5,234 L254.5,238 L256.5,241 L259,243 L262,245 L265,246.5 L268,247.5 L272,248.1 L311,248.1 L311,248.1 L179.9,248.1Z" stroke="none" fill="#f09ccb" stroke-width="0.8" fill-opacity="0.75"/>
<path d="M179.9,248.1 L222,248.1 L224.5,247.2 L226,245 L227.5,240 L229,232 L230.4,226.5 L232,223.8 L233.5,222.5 L235,220 L236.5,217.3 L238,215.3 L239.5,217.5 L241.2,221 L242.7,224.5 L244.2,227.3 L246.5,229.6 L248.5,230.6 L250.4,231.5 L252.5,234 L254.5,238 L256.5,241 L259,243 L262,245 L265,246.5 L268,247.5 L272,248.1 L311,248.1" stroke="#d43a8a" fill="none" stroke-width="0.9" stroke-linejoin="round"/>
<path d="M179.9,269.2 L234,269.2 L236.5,267.5 L238,263 L239.5,257 L241,253.8 L243.5,252.5 L245.8,251.5 L247.5,249 L249.5,244 L251.5,238.5 L253,236 L254.3,235.3 L255.8,237.5 L257.5,241.5 L259,240 L260.5,236.5 L262,234 L263.5,233.2 L265,235.5 L266.5,240 L268.8,250 L270.5,256.5 L272,261 L274,264.8 L275.8,266.5 L278,268.3 L281,269.2 L311,269.2 L311,269.2 L179.9,269.2Z" stroke="none" fill="#fbcf92" stroke-width="0.8" fill-opacity="0.75"/>
<path d="M179.9,269.2 L234,269.2 L236.5,267.5 L238,263 L239.5,257 L241,253.8 L243.5,252.5 L245.8,251.5 L247.5,249 L249.5,244 L251.5,238.5 L253,236 L254.3,235.3 L255.8,237.5 L257.5,241.5 L259,240 L260.5,236.5 L262,234 L263.5,233.2 L265,235.5 L266.5,240 L268.8,250 L270.5,256.5 L272,261 L274,264.8 L275.8,266.5 L278,268.3 L281,269.2 L311,269.2" stroke="#f0a040" fill="none" stroke-width="0.9" stroke-linejoin="round"/>
<path d="M179.9,290.4 L240,290.4 L243,289 L246,286 L249,281 L252,275 L255,271 L257.5,270 L259,266 L261,260 L263,255.5 L264.5,254.2 L266,256 L268,263 L270,272 L272,280 L274,286 L276,289.5 L280,290.4 L311,290.4 L311,290.4 L179.9,290.4Z" stroke="none" fill="#a6d7ef" stroke-width="0.8" fill-opacity="0.75"/>
<path d="M179.9,290.4 L240,290.4 L243,289 L246,286 L249,281 L252,275 L255,271 L257.5,270 L259,266 L261,260 L263,255.5 L264.5,254.2 L266,256 L268,263 L270,272 L272,280 L274,286 L276,289.5 L280,290.4 L311,290.4" stroke="#25a3d6" fill="none" stroke-width="0.9" stroke-linejoin="round"/>
<path d="M179.9,310.2 L251,310.2 L253,307 L255,302 L257,298.5 L259,296 L261,290 L263,283 L265,278.5 L267.3,276.8 L269,278 L271,284 L273,295 L275,305 L277,309.5 L279,310.2 L311,310.2 L311,310.2 L179.9,310.2Z" stroke="none" fill="#e8a0b0" stroke-width="0.8" fill-opacity="0.75"/>
<path d="M179.9,310.2 L251,310.2 L253,307 L255,302 L257,298.5 L259,296 L261,290 L263,283 L265,278.5 L267.3,276.8 L269,278 L271,284 L273,295 L275,305 L277,309.5 L279,310.2 L311,310.2" stroke="#b8234a" fill="none" stroke-width="0.9" stroke-linejoin="round"/>
<line x1="247.3" y1="183" x2="247.3" y2="310" stroke="#3a5c80" stroke-width="0.9" stroke-dasharray="2.2,1.6,0.6,1.6"/>
<line x1="257.3" y1="183" x2="257.3" y2="310" stroke="#3a5c80" stroke-width="0.9" stroke-dasharray="2.2,1.6,0.6,1.6"/>
<text x="182.7" y="200.9" font-size="6.9" text-anchor="start" fill="#5cb872" font-weight="normal" stroke="#5cb872" stroke-width="0.12" textLength="22.3" lengthAdjust="spacingAndGlyphs"  style="">Positive</text>
<text x="182.7" y="209.3" font-size="6.9" text-anchor="start" fill="#5cb872" font-weight="normal" stroke="#5cb872" stroke-width="0.12" textLength="21.2" lengthAdjust="spacingAndGlyphs"  style="">Control</text>
<text x="182.7" y="236.5" font-size="6.9" text-anchor="start" fill="#d8428e" font-weight="normal" stroke="#d8428e" stroke-width="0.12" textLength="35.3" lengthAdjust="spacingAndGlyphs"  style="">CD4<tspan dy="-2.6" font-size="4.8">+</tspan><tspan dy="2.6"> T cells</tspan></text>
<text x="182.7" y="244.9" font-size="6.9" text-anchor="start" fill="#d8428e" font-weight="normal" stroke="#d8428e" stroke-width="0.12" textLength="50" lengthAdjust="spacingAndGlyphs"  style="">(HBM neutrophil)</text>
<text x="182.7" y="257.7" font-size="6.9" text-anchor="start" fill="#f0a848" font-weight="normal" stroke="#f0a848" stroke-width="0.12" textLength="35.3" lengthAdjust="spacingAndGlyphs"  style="">CD4<tspan dy="-2.6" font-size="4.8">+</tspan><tspan dy="2.6"> T cells</tspan></text>
<text x="182.7" y="265.9" font-size="6.9" text-anchor="start" fill="#f0a848" font-weight="normal" stroke="#f0a848" stroke-width="0.12" textLength="55.3" lengthAdjust="spacingAndGlyphs"  style="">(MMBM neutrophil)</text>
<text x="182.7" y="278.9" font-size="6.9" text-anchor="start" fill="#36a6d8" font-weight="normal" stroke="#36a6d8" stroke-width="0.12" textLength="35.3" lengthAdjust="spacingAndGlyphs"  style="">CD4<tspan dy="-2.6" font-size="4.8">+</tspan><tspan dy="2.6"> T cells</tspan></text>
<text x="182.7" y="287.1" font-size="6.9" text-anchor="start" fill="#36a6d8" font-weight="normal" stroke="#36a6d8" stroke-width="0.12" textLength="53.8" lengthAdjust="spacingAndGlyphs"  style="">(MMFL neutrophil)</text>
<text x="182.7" y="306" font-size="6.9" text-anchor="start" fill="#b8284e" font-weight="normal" stroke="#b8284e" stroke-width="0.12" textLength="50.5" lengthAdjust="spacingAndGlyphs"  style="">Negative Control</text>
<line x1="188" y1="310.2" x2="188" y2="312.6" stroke="#222" stroke-width="0.7" />
<text x="188" y="322.6" font-size="6.4" text-anchor="middle" fill="#333" font-weight="normal" stroke="#333" stroke-width="0.12"  style="">10<tspan dy="-2" font-size="3.8">3</tspan></text>
<line x1="211" y1="310.2" x2="211" y2="312.6" stroke="#222" stroke-width="0.7" />
<text x="211" y="322.6" font-size="6.4" text-anchor="middle" fill="#333" font-weight="normal" stroke="#333" stroke-width="0.12"  style="">0</text>
<line x1="229.8" y1="310.2" x2="229.8" y2="312.6" stroke="#222" stroke-width="0.7" />
<text x="229.8" y="322.6" font-size="6.4" text-anchor="middle" fill="#333" font-weight="normal" stroke="#333" stroke-width="0.12"  style="">10<tspan dy="-2" font-size="3.8">3</tspan></text>
<line x1="267.2" y1="310.2" x2="267.2" y2="312.6" stroke="#222" stroke-width="0.7" />
<text x="267.2" y="322.6" font-size="6.4" text-anchor="middle" fill="#333" font-weight="normal" stroke="#333" stroke-width="0.12"  style="">10<tspan dy="-2" font-size="3.8">4</tspan></text>
<line x1="297.5" y1="310.2" x2="297.5" y2="312.6" stroke="#222" stroke-width="0.7" />
<text x="297.5" y="322.6" font-size="6.4" text-anchor="middle" fill="#333" font-weight="normal" stroke="#333" stroke-width="0.12"  style="">10<tspan dy="-2" font-size="3.8">5</tspan></text>
<line x1="192" y1="310.2" x2="192" y2="311.6" stroke="#222" stroke-width="0.5" />
<line x1="196" y1="310.2" x2="196" y2="311.6" stroke="#222" stroke-width="0.5" />
<line x1="199" y1="310.2" x2="199" y2="311.6" stroke="#222" stroke-width="0.5" />
<line x1="202" y1="310.2" x2="202" y2="311.6" stroke="#222" stroke-width="0.5" />
<line x1="205" y1="310.2" x2="205" y2="311.6" stroke="#222" stroke-width="0.5" />
<line x1="207" y1="310.2" x2="207" y2="311.6" stroke="#222" stroke-width="0.5" />
<line x1="209" y1="310.2" x2="209" y2="311.6" stroke="#222" stroke-width="0.5" />
<line x1="213" y1="310.2" x2="213" y2="311.6" stroke="#222" stroke-width="0.5" />
<line x1="215" y1="310.2" x2="215" y2="311.6" stroke="#222" stroke-width="0.5" />
<line x1="217" y1="310.2" x2="217" y2="311.6" stroke="#222" stroke-width="0.5" />
<line x1="219" y1="310.2" x2="219" y2="311.6" stroke="#222" stroke-width="0.5" />
<line x1="221" y1="310.2" x2="221" y2="311.6" stroke="#222" stroke-width="0.5" />
<line x1="224" y1="310.2" x2="224" y2="311.6" stroke="#222" stroke-width="0.5" />
<line x1="227" y1="310.2" x2="227" y2="311.6" stroke="#222" stroke-width="0.5" />
<line x1="233" y1="310.2" x2="233" y2="311.6" stroke="#222" stroke-width="0.5" />
<line x1="236" y1="310.2" x2="236" y2="311.6" stroke="#222" stroke-width="0.5" />
<line x1="239" y1="310.2" x2="239" y2="311.6" stroke="#222" stroke-width="0.5" />
<line x1="241" y1="310.2" x2="241" y2="311.6" stroke="#222" stroke-width="0.5" />
<line x1="243" y1="310.2" x2="243" y2="311.6" stroke="#222" stroke-width="0.5" />
<line x1="245" y1="310.2" x2="245" y2="311.6" stroke="#222" stroke-width="0.5" />
<line x1="254" y1="310.2" x2="254" y2="311.6" stroke="#222" stroke-width="0.5" />
<line x1="259" y1="310.2" x2="259" y2="311.6" stroke="#222" stroke-width="0.5" />
<line x1="262" y1="310.2" x2="262" y2="311.6" stroke="#222" stroke-width="0.5" />
<line x1="264" y1="310.2" x2="264" y2="311.6" stroke="#222" stroke-width="0.5" />
<line x1="270" y1="310.2" x2="270" y2="311.6" stroke="#222" stroke-width="0.5" />
<line x1="276" y1="310.2" x2="276" y2="311.6" stroke="#222" stroke-width="0.5" />
<line x1="280" y1="310.2" x2="280" y2="311.6" stroke="#222" stroke-width="0.5" />
<line x1="283" y1="310.2" x2="283" y2="311.6" stroke="#222" stroke-width="0.5" />
<line x1="286" y1="310.2" x2="286" y2="311.6" stroke="#222" stroke-width="0.5" />
<line x1="288" y1="310.2" x2="288" y2="311.6" stroke="#222" stroke-width="0.5" />
<line x1="290" y1="310.2" x2="290" y2="311.6" stroke="#222" stroke-width="0.5" />
<line x1="292" y1="310.2" x2="292" y2="311.6" stroke="#222" stroke-width="0.5" />
<line x1="294" y1="310.2" x2="294" y2="311.6" stroke="#222" stroke-width="0.5" />
<line x1="300" y1="310.2" x2="300" y2="311.6" stroke="#222" stroke-width="0.5" />
<line x1="304" y1="310.2" x2="304" y2="311.6" stroke="#222" stroke-width="0.5" />
<line x1="307" y1="310.2" x2="307" y2="311.6" stroke="#222" stroke-width="0.5" />
<line x1="309" y1="310.2" x2="309" y2="311.6" stroke="#222" stroke-width="0.5" />
<line x1="380.5" y1="202" x2="380.5" y2="312" stroke="#222" stroke-width="1.0" />
<line x1="380.2" y1="311.5" x2="509.3" y2="311.5" stroke="#222" stroke-width="1.0" />
<line x1="378" y1="312" x2="380.5" y2="312" stroke="#222" stroke-width="0.8" />
<text x="376.2" y="314.5" font-size="6.9" text-anchor="end" fill="#333" font-weight="normal" stroke="#333" stroke-width="0.12" textLength="9.6" lengthAdjust="spacingAndGlyphs"  style="">0.5</text>
<line x1="378" y1="276.6" x2="380.5" y2="276.6" stroke="#222" stroke-width="0.8" />
<text x="376.2" y="279.1" font-size="6.9" text-anchor="end" fill="#333" font-weight="normal" stroke="#333" stroke-width="0.12" textLength="9.6" lengthAdjust="spacingAndGlyphs"  style="">1.0</text>
<line x1="378" y1="241.2" x2="380.5" y2="241.2" stroke="#222" stroke-width="0.8" />
<text x="376.2" y="243.7" font-size="6.9" text-anchor="end" fill="#333" font-weight="normal" stroke="#333" stroke-width="0.12" textLength="9.6" lengthAdjust="spacingAndGlyphs"  style="">1.5</text>
<line x1="378" y1="205.8" x2="380.5" y2="205.8" stroke="#222" stroke-width="0.8" />
<text x="376.2" y="208.3" font-size="6.9" text-anchor="end" fill="#333" font-weight="normal" stroke="#333" stroke-width="0.12" textLength="9.6" lengthAdjust="spacingAndGlyphs"  style="">2.0</text>
<text transform="translate(360.57,256.4) rotate(-90)" x="0" y="0" font-size="8.2" text-anchor="middle" fill="#333" stroke="#333" stroke-width="0.12" textLength="76" lengthAdjust="spacingAndGlyphs">T-cell proliferation index</text>
<rect x="385.6" y="277.66" width="6.9" height="33.84" fill="#d9d9d9" stroke="none" stroke-width="0.8" />
<rect x="397.2" y="246.16" width="6.9" height="65.34" fill="#6b97bd" stroke="none" stroke-width="0.8" />
<rect x="408.8" y="240.49" width="6.9" height="71.01" fill="#e27cb4" stroke="none" stroke-width="0.8" />
<rect x="420.4" y="261.02" width="6.9" height="50.48" fill="#e47b8c" stroke="none" stroke-width="0.8" />
<rect x="432" y="269.52" width="6.9" height="41.98" fill="#dca67c" stroke="none" stroke-width="0.8" />
<line x1="412.2" y1="311.5" x2="412.2" y2="314" stroke="#222" stroke-width="0.7" />
<text x="412" y="324.2" font-size="7.4" text-anchor="middle" fill="#333" font-weight="normal" stroke="#333" stroke-width="0.12" textLength="36" lengthAdjust="spacingAndGlyphs"  style="">CD4<tspan dy="-2.6" font-size="4.8">+</tspan><tspan dy="2.6"> T cells</tspan></text>
<rect x="451.6" y="277.66" width="6.9" height="33.84" fill="#d9d9d9" stroke="none" stroke-width="0.8" />
<rect x="463.2" y="250.4" width="6.9" height="61.1" fill="#6b97bd" stroke="none" stroke-width="0.8" />
<rect x="474.8" y="248.28" width="6.9" height="63.22" fill="#e27cb4" stroke="none" stroke-width="0.8" />
<rect x="486.4" y="260.32" width="6.9" height="51.18" fill="#e47b8c" stroke="none" stroke-width="0.8" />
<rect x="498" y="267.4" width="6.9" height="44.1" fill="#dca67c" stroke="none" stroke-width="0.8" />
<line x1="478.2" y1="311.5" x2="478.2" y2="314" stroke="#222" stroke-width="0.7" />
<text x="478" y="324.2" font-size="7.4" text-anchor="middle" fill="#333" font-weight="normal" stroke="#333" stroke-width="0.12" textLength="36" lengthAdjust="spacingAndGlyphs"  style="">CD8<tspan dy="-2.6" font-size="4.8">+</tspan><tspan dy="2.6"> T cells</tspan></text>
<line x1="400.7" y1="236" x2="400.7" y2="246" stroke="#23405e" stroke-width="0.8" />
<circle cx="388" cy="274" r="2.9" fill="#fff" fill-opacity="0.5" stroke="#222" stroke-width="0.85"/>
<circle cx="389.6" cy="276.8" r="2.9" fill="#fff" fill-opacity="0.5" stroke="#222" stroke-width="0.85"/>
<circle cx="387.2" cy="277.6" r="2.9" fill="#fff" fill-opacity="0.5" stroke="#222" stroke-width="0.85"/>
<rect x="398" y="232.8" width="5.2" height="5.2" fill="#ffffff" stroke="#444" stroke-width="0.85" fill-opacity="0.9"/>
<rect x="399.2" y="241.8" width="5.2" height="5.2" fill="#ffffff" stroke="#23405e" stroke-width="0.9" fill-opacity="0.35"/>
<rect x="397" y="244.8" width="5.2" height="5.2" fill="#ffffff" stroke="#23405e" stroke-width="0.9" fill-opacity="0.35"/>
<rect x="397.8" y="246.2" width="5.2" height="5.2" fill="#ffffff" stroke="#23405e" stroke-width="0.9" fill-opacity="0.35"/>
<line x1="411.5" y1="234" x2="411.5" y2="243" stroke="#222" stroke-width="0.7" />
<path d="M410.6,231.7 L413.5,234.6 L410.6,237.5 L407.7,234.6Z" stroke="#1a1a1a" fill="#ffffff" stroke-width="1.0" fill-opacity="0.45"/>
<circle cx="410.6" cy="234.6" r="1.3" fill="none" stroke="#1a1a1a" stroke-width="0.75"/>
<path d="M412.6,236.9 L415.5,239.8 L412.6,242.7 L409.7,239.8Z" stroke="#1a1a1a" fill="#ffffff" stroke-width="1.0" fill-opacity="0.45"/>
<circle cx="412.6" cy="239.8" r="1.3" fill="none" stroke="#1a1a1a" stroke-width="0.75"/>
<path d="M410.6,240.1 L413.5,243 L410.6,245.9 L407.7,243Z" stroke="#1a1a1a" fill="#ffffff" stroke-width="1.0" fill-opacity="0.45"/>
<circle cx="410.6" cy="243" r="1.3" fill="none" stroke="#1a1a1a" stroke-width="0.75"/>
<circle cx="423" cy="258.6" r="2.4" fill="#e47b8c" fill-opacity="0.6" stroke="#1a1a1a" stroke-width="0.9"/>
<circle cx="424.6" cy="259.8" r="2.4" fill="#e47b8c" fill-opacity="0.6" stroke="#1a1a1a" stroke-width="0.9"/>
<circle cx="422.8" cy="260.8" r="2.4" fill="#e47b8c" fill-opacity="0.6" stroke="#1a1a1a" stroke-width="0.9"/>
<path d="M432.2,263.96 L437,263.96 L434.6,268.28Z" stroke="#1a1a1a" fill="#fff" stroke-width="0.85" />
<path d="M434.2,265.96 L439,265.96 L436.6,270.28Z" stroke="#1a1a1a" fill="#fff" stroke-width="0.85" />
<path d="M432.6,269.16 L437.4,269.16 L435,273.48Z" stroke="#1a1a1a" fill="#fff" stroke-width="0.85" />
<circle cx="454.4" cy="273.6" r="2.9" fill="#fff" fill-opacity="0.5" stroke="#222" stroke-width="0.85"/>
<circle cx="456" cy="276.2" r="2.9" fill="#fff" fill-opacity="0.5" stroke="#222" stroke-width="0.85"/>
<circle cx="453.6" cy="277.6" r="2.9" fill="#fff" fill-opacity="0.5" stroke="#222" stroke-width="0.85"/>
<line x1="466.4" y1="239" x2="466.4" y2="251" stroke="#23405e" stroke-width="0.8" />
<rect x="462.6" y="236.2" width="5.2" height="5.2" fill="#ffffff" stroke="#444" stroke-width="0.85" fill-opacity="0.9"/>
<rect x="465.4" y="240.8" width="5.2" height="5.2" fill="#ffffff" stroke="#23405e" stroke-width="0.9" fill-opacity="0.35"/>
<rect x="463.4" y="245" width="5.2" height="5.2" fill="#ffffff" stroke="#23405e" stroke-width="0.9" fill-opacity="0.35"/>
<rect x="463" y="248.4" width="5.2" height="5.2" fill="#ffffff" stroke="#23405e" stroke-width="0.9" fill-opacity="0.35"/>
<line x1="477.8" y1="244" x2="477.8" y2="250" stroke="#222" stroke-width="0.7" />
<path d="M478,241.1 L480.9,244 L478,246.9 L475.1,244Z" stroke="#1a1a1a" fill="#ffffff" stroke-width="1.0" fill-opacity="0.45"/>
<circle cx="478" cy="244" r="1.3" fill="none" stroke="#1a1a1a" stroke-width="0.75"/>
<path d="M477.4,246.9 L480.3,249.8 L477.4,252.7 L474.5,249.8Z" stroke="#1a1a1a" fill="#ffffff" stroke-width="1.0" fill-opacity="0.45"/>
<circle cx="477.4" cy="249.8" r="1.3" fill="none" stroke="#1a1a1a" stroke-width="0.75"/>
<circle cx="489" cy="257" r="2.4" fill="#e47b8c" fill-opacity="0.6" stroke="#1a1a1a" stroke-width="0.9"/>
<circle cx="490.6" cy="258.8" r="2.4" fill="#e47b8c" fill-opacity="0.6" stroke="#1a1a1a" stroke-width="0.9"/>
<circle cx="488.8" cy="260.2" r="2.4" fill="#e47b8c" fill-opacity="0.6" stroke="#1a1a1a" stroke-width="0.9"/>
<path d="M497.6,259.96 L502.4,259.96 L500,264.28Z" stroke="#1a1a1a" fill="#fff" stroke-width="0.85" />
<path d="M499.6,264.56 L504.4,264.56 L502,268.88Z" stroke="#1a1a1a" fill="#fff" stroke-width="0.85" />
<path d="M498,266.56 L502.8,266.56 L500.4,270.88Z" stroke="#1a1a1a" fill="#fff" stroke-width="0.85" />
<path d="M406.5,221.9 L406.5,217.5 L430.4,217.5 L430.4,238.6" stroke="#444" fill="none" stroke-width="0.8" />
<text x="418.45" y="218.4" font-size="7.4" text-anchor="middle" fill="#333" font-weight="normal" stroke="#333" stroke-width="0.12"  style="">**</text>
<line x1="400.2" y1="228.8" x2="412" y2="228.8" stroke="#444" stroke-width="0.9" />
<path d="M472.6,224.2 L472.6,219.5 L496.5,219.5 L496.5,240.4" stroke="#444" fill="none" stroke-width="0.8" />
<text x="484.55" y="220.2" font-size="7.4" text-anchor="middle" fill="#333" font-weight="normal" stroke="#333" stroke-width="0.12"  style="">**</text>
<line x1="466.5" y1="231.4" x2="478" y2="231.4" stroke="#444" stroke-width="0.9" />
<line x1="423.6" y1="251.3" x2="437.3" y2="251.3" stroke="#333" stroke-width="0.8" />
<line x1="423.6" y1="249.5" x2="423.6" y2="253.1" stroke="#333" stroke-width="0.8" />
<line x1="437.3" y1="249.5" x2="437.3" y2="253.1" stroke="#333" stroke-width="0.8" />
<text x="430.45" y="250.9" font-size="7.4" text-anchor="middle" fill="#333" font-weight="normal" stroke="#333" stroke-width="0.12"  style="">*</text>
<line x1="489.4" y1="249.1" x2="503.5" y2="249.1" stroke="#333" stroke-width="0.8" />
<line x1="489.4" y1="247.3" x2="489.4" y2="250.9" stroke="#333" stroke-width="0.8" />
<line x1="503.5" y1="247.3" x2="503.5" y2="250.9" stroke="#333" stroke-width="0.8" />
<text x="496.45" y="248.7" font-size="7.4" text-anchor="middle" fill="#333" font-weight="normal" stroke="#333" stroke-width="0.12"  style="">*</text>
<circle cx="379.3" cy="333" r="2.9" fill="#fff" fill-opacity="1" stroke="#333" stroke-width="0.8"/>
<rect x="376.6" y="341" width="5.4" height="5.4" fill="#ffffff" stroke="#333" stroke-width="0.8" fill-opacity="1"/>
<path d="M379.3,352 L382.5,355.2 L379.3,358.4 L376.1,355.2Z" stroke="#333" fill="#fff" stroke-width="0.9" fill-opacity="1"/>
<circle cx="379.3" cy="355.2" r="1.44" fill="none" stroke="#333" stroke-width="0.75"/>
<circle cx="453.6" cy="333" r="2.9" fill="#fff" fill-opacity="1" stroke="#333" stroke-width="0.8"/>
<path d="M450.7,340.94 L456.5,340.94 L453.6,346.15Z" stroke="#333" fill="#fff" stroke-width="0.8" />
<text x="385.2" y="335.5" font-size="7.0" text-anchor="start" fill="#333" font-weight="normal" stroke="#333" stroke-width="0.12" textLength="59.4" lengthAdjust="spacingAndGlyphs"  style="">Unstimulated T cells</text>
<text x="385.2" y="346.2" font-size="7.0" text-anchor="start" fill="#333" font-weight="normal" stroke="#333" stroke-width="0.12" textLength="51.9" lengthAdjust="spacingAndGlyphs"  style="">Stimulated T cells</text>
<text x="385.2" y="357.7" font-size="7.0" text-anchor="start" fill="#333" font-weight="normal" stroke="#333" stroke-width="0.12" textLength="47" lengthAdjust="spacingAndGlyphs"  style="">HBM neutrophil</text>
<text x="459.3" y="335.5" font-size="7.0" text-anchor="start" fill="#333" font-weight="normal" stroke="#333" stroke-width="0.12" textLength="53.9" lengthAdjust="spacingAndGlyphs"  style="">MMBM neutrophil</text>
<text x="459.3" y="346.2" font-size="7.0" text-anchor="start" fill="#333" font-weight="normal" stroke="#333" stroke-width="0.12" textLength="51" lengthAdjust="spacingAndGlyphs"  style="">MMFL neutrophil</text>
<line x1="34.5" y1="369.8" x2="34.5" y2="462" stroke="#333" stroke-width="1.0" />
<line x1="31.9" y1="458.6" x2="34.5" y2="458.6" stroke="#333" stroke-width="0.9" />
<text x="30.9" y="461" font-size="7.0" text-anchor="end" fill="#333" font-weight="normal" stroke="#333" stroke-width="0.12" textLength="10.2" lengthAdjust="spacingAndGlyphs"  style="">0.0</text>
<line x1="31.9" y1="415.6" x2="34.5" y2="415.6" stroke="#333" stroke-width="0.9" />
<text x="30.9" y="418" font-size="7.0" text-anchor="end" fill="#333" font-weight="normal" stroke="#333" stroke-width="0.12" textLength="10.2" lengthAdjust="spacingAndGlyphs"  style="">0.5</text>
<line x1="31.9" y1="372.6" x2="34.5" y2="372.6" stroke="#333" stroke-width="0.9" />
<text x="30.9" y="375" font-size="7.0" text-anchor="end" fill="#333" font-weight="normal" stroke="#333" stroke-width="0.12" textLength="10.2" lengthAdjust="spacingAndGlyphs"  style="">1.0</text>
<line x1="34" y1="461.5" x2="127.6" y2="461.5" stroke="#333" stroke-width="1.0" />
<line x1="38.2" y1="461.5" x2="38.2" y2="464" stroke="#333" stroke-width="0.9" />
<text x="38.2" y="473.6" font-size="7.0" text-anchor="middle" fill="#333" font-weight="normal" stroke="#333" stroke-width="0.12"  style="">0</text>
<line x1="59.75" y1="461.5" x2="59.75" y2="464" stroke="#333" stroke-width="0.9" />
<text x="59.75" y="473.6" font-size="7.0" text-anchor="middle" fill="#333" font-weight="normal" stroke="#333" stroke-width="0.12"  style="">2</text>
<line x1="81.3" y1="461.5" x2="81.3" y2="464" stroke="#333" stroke-width="0.9" />
<text x="81.3" y="473.6" font-size="7.0" text-anchor="middle" fill="#333" font-weight="normal" stroke="#333" stroke-width="0.12"  style="">4</text>
<line x1="102.85" y1="461.5" x2="102.85" y2="464" stroke="#333" stroke-width="0.9" />
<text x="102.85" y="473.6" font-size="7.0" text-anchor="middle" fill="#333" font-weight="normal" stroke="#333" stroke-width="0.12"  style="">6</text>
<line x1="124.4" y1="461.5" x2="124.4" y2="464" stroke="#333" stroke-width="0.9" />
<text x="124.4" y="473.6" font-size="7.0" text-anchor="middle" fill="#333" font-weight="normal" stroke="#333" stroke-width="0.12"  style="">8</text>
<text x="81.3" y="485.6" font-size="8.0" text-anchor="middle" fill="#333" font-weight="normal" stroke="#333" stroke-width="0.12" textLength="24" lengthAdjust="spacingAndGlyphs"  style="">(Years)</text>
<text transform="translate(14.77,415.8) rotate(-90)" x="0" y="0" font-size="8.2" text-anchor="middle" fill="#333" stroke="#333" stroke-width="0.12" textLength="47" lengthAdjust="spacingAndGlyphs">Overall survival</text>
<text x="81.3" y="364" font-size="9.0" text-anchor="middle" fill="#222" font-weight="normal" stroke="#222" stroke-width="0.12"  style="">Immature Neutrophil</text>
<text x="80.7" y="352.4" font-size="6.5" text-anchor="middle" fill="#333" font-weight="normal" stroke="#333" stroke-width="0.12"  style="">MMRF, <tspan font-style="italic">P</tspan> = .01</text>
<line x1="130.8" y1="373.2" x2="145.6" y2="373.2" stroke="#b8203e" stroke-width="1.1" />
<line x1="130.8" y1="383.2" x2="145.6" y2="383.2" stroke="#1e4e78" stroke-width="1.1" />
<text x="148.6" y="375.6" font-size="7.0" text-anchor="start" fill="#444" font-weight="normal" stroke="#444" stroke-width="0.12" textLength="13.9" lengthAdjust="spacingAndGlyphs"  style="">High</text>
<text x="148.6" y="385.6" font-size="7.0" text-anchor="start" fill="#444" font-weight="normal" stroke="#444" stroke-width="0.12" textLength="11.6" lengthAdjust="spacingAndGlyphs"  style="">Low</text>
<path d="M38.2,372.6 L41.5,372.6 L41.5,377.3 L45.4,377.3 L45.4,381.2 L49.2,381.2 L49.2,385.5 L51.6,385.5 L51.6,386.32 L54,386.32 L54,387.15 L56.4,387.15 L56.4,387.98 L58.8,387.98 L58.8,388.8 L62.7,388.8 L62.7,392.7 L66.5,392.7 L66.5,397.5 L70.4,397.5 L70.4,400.4 L72.3,400.4 L72.3,405.2 L76,405.2 L76,407.3 L78,407.3 L78,407.5 L80,407.5 L80,407.7 L82,407.7 L82,407.9 L84,407.9 L84,408.1 L85.8,408.1 L85.8,411.9 L87.7,411.9 L87.7,415.8 L90.27,415.8 L90.27,415.8 L92.83,415.8 L92.83,415.8 L95.4,415.8 L95.4,415.8 L97.3,415.8 L97.3,417.7 L99.2,417.7 L99.2,421.5 L101.2,421.5 L101.2,426.3 L102.1,426.3 L102.1,431.2 L104.22,431.2 L104.22,431.2 L106.34,431.2 L106.34,431.2 L108.47,431.2 L108.47,431.2 L110.59,431.2 L110.59,431.2 L112.71,431.2 L112.71,431.2 L114.83,431.2 L114.83,431.2 L116.96,431.2 L116.96,431.2 L119.08,431.2 L119.08,431.2 L121.2,431.2 L121.2,431.2" stroke="#3474a4" fill="none" stroke-width="0.9" stroke-linejoin="round" stroke-linecap="butt"/>
<path d="M50.2,384.04 v3.6 M48.9,385.84 h2.6 M77.1,405.61 v3.6 M75.8,407.41 h2.6 M81,406 v3.6 M79.7,407.8 h2.6 M84,406.3 v3.6 M82.7,408.1 h2.6 M91.5,414 v3.6 M90.2,415.8 h2.6 M96.3,414.9 v3.6 M95,416.7 h2.6 M103,429.4 v3.6 M101.7,431.2 h2.6 M108.8,429.4 v3.6 M107.5,431.2 h2.6 M114.6,429.4 v3.6 M113.3,431.2 h2.6 M120.4,429.4 v3.6 M119.1,431.2 h2.6 " stroke="#3474a4" fill="none" stroke-width="0.8" />
<path d="M38.2,372.6 L41.5,375.4 L45.4,378.3 L49.2,382.1 L53.1,385 L58.8,388.8 L64.6,391.7 L70.4,393.7 L76.2,396.5 L83.8,398.5 L87.7,400.4 L93.5,403.3 L99.2,405.2 L106.9,408.1 L110.8,409.4 L122.6,409.4" stroke="#cf1d42" fill="none" stroke-width="3.0" stroke-linejoin="round" stroke-linecap="butt"/>
<line x1="122.6" y1="409.4" x2="122.6" y2="422.2" stroke="#cf1d42" stroke-width="0.9" />
<path d="M50.88,381.05 v4.6 M49.38,383.35 h3 M108.64,406.38 v4.6 M107.14,408.68 h3 M101.87,403.9 v4.6 M100.37,406.2 h3 M60.66,387.43 v4.6 M59.16,389.73 h3 M80.13,395.23 v4.6 M78.63,397.53 h3 M76.41,394.25 v4.6 M74.91,396.55 h3 M92.78,400.64 v4.6 M91.28,402.94 h3 M103.89,404.67 v4.6 M102.39,406.97 h3 M47.6,378.2 v4.6 M46.1,380.5 h3 M42.3,373.69 v4.6 M40.8,375.99 h3 M107.7,406.07 v4.6 M106.2,408.37 h3 M75.05,393.65 v4.6 M73.55,395.95 h3 M101.74,403.86 v4.6 M100.24,406.16 h3 M40.17,371.97 v4.6 M38.67,374.27 h3 M76.08,394.14 v4.6 M74.58,396.44 h3 M98.44,402.65 v4.6 M96.94,404.95 h3 M58.53,386.32 v4.6 M57.03,388.62 h3 M116.57,407.1 v4.6 M115.07,409.4 h3 M113.02,407.1 v4.6 M111.52,409.4 h3 M42.48,373.83 v4.6 M40.98,376.13 h3 M42.06,373.52 v4.6 M40.56,375.82 h3 M83.85,396.23 v4.6 M82.35,398.53 h3 M116.07,407.1 v4.6 M114.57,409.4 h3 M70.88,391.63 v4.6 M69.38,393.93 h3 M57.54,385.66 v4.6 M56.04,387.96 h3 M74.19,393.23 v4.6 M72.69,395.53 h3 M42.35,373.73 v4.6 M40.85,376.03 h3 M57.96,385.94 v4.6 M56.46,388.24 h3 M75.47,393.85 v4.6 M73.97,396.15 h3 M80.16,395.24 v4.6 M78.66,397.54 h3 M58.88,386.54 v4.6 M57.38,388.84 h3 M58.7,386.43 v4.6 M57.2,388.73 h3 M57.72,385.78 v4.6 M56.22,388.08 h3 M77.23,394.47 v4.6 M75.73,396.77 h3 M63.47,388.84 v4.6 M61.97,391.14 h3 M41.74,373.28 v4.6 M40.24,375.58 h3 M107.84,406.11 v4.6 M106.34,408.41 h3 M85.07,396.82 v4.6 M83.57,399.12 h3 M92.03,400.26 v4.6 M90.53,402.56 h3 M55.06,384.01 v4.6 M53.56,386.31 h3 M120.4,407.1 v4.6 M118.9,409.4 h3 M109.66,406.72 v4.6 M108.16,409.02 h3 M49.79,380.24 v4.6 M48.29,382.54 h3 M66.95,390.21 v4.6 M65.45,392.51 h3 M98.44,402.65 v4.6 M96.94,404.95 h3 M97.61,402.37 v4.6 M96.11,404.67 h3 M115.85,407.1 v4.6 M114.35,409.4 h3 M74.19,393.23 v4.6 M72.69,395.53 h3 M107.23,405.91 v4.6 M105.73,408.21 h3 M94.29,401.26 v4.6 M92.79,403.56 h3 M64.57,389.39 v4.6 M63.07,391.69 h3 M87.59,398.05 v4.6 M86.09,400.35 h3 M111.48,407.1 v4.6 M109.98,409.4 h3 M108.54,406.35 v4.6 M107.04,408.65 h3 M80.93,395.44 v4.6 M79.43,397.74 h3 M87.71,398.1 v4.6 M86.21,400.4 h3 M42.8,374.06 v4.6 M41.3,376.36 h3 M59.66,386.93 v4.6 M58.16,389.23 h3 M104.59,404.93 v4.6 M103.09,407.23 h3 M73.56,392.93 v4.6 M72.06,395.23 h3 M54.01,383.31 v4.6 M52.51,385.61 h3 M84.45,396.52 v4.6 M82.95,398.82 h3 M96.95,402.15 v4.6 M95.45,404.45 h3 M94.63,401.38 v4.6 M93.13,403.68 h3 M70.35,391.38 v4.6 M68.85,393.68 h3 M75.56,393.89 v4.6 M74.06,396.19 h3 M81.18,395.51 v4.6 M79.68,397.81 h3 M103.05,404.35 v4.6 M101.55,406.65 h3 M82.2,395.78 v4.6 M80.7,398.08 h3 M71.85,392.1 v4.6 M70.35,394.4 h3 " stroke="#cf1d42" fill="none" stroke-width="1.0" />
<path d="M123.3,419.4 v3.6 M121.8,421.2 h3 " stroke="#cf1d42" fill="none" stroke-width="0.9" />
<text x="35" y="496.8" font-size="6.8" text-anchor="start" fill="#333" font-weight="normal" stroke="#333" stroke-width="0.12" textLength="45" lengthAdjust="spacingAndGlyphs"  style="">Number  at risk</text>
<text x="15.5" y="507.2" font-size="6.8" text-anchor="start" fill="#c83a5a" font-weight="normal" stroke="#c83a5a" stroke-width="0.12" textLength="14" lengthAdjust="spacingAndGlyphs"  style="">High</text>
<text x="15.5" y="517.2" font-size="6.8" text-anchor="start" fill="#345a80" font-weight="normal" stroke="#345a80" stroke-width="0.12" textLength="12.4" lengthAdjust="spacingAndGlyphs"  style="">Low</text>
<text x="38.5" y="507.2" font-size="7.0" text-anchor="middle" fill="#c83a5a" font-weight="normal" stroke="#c83a5a" stroke-width="0.12"  style="">585</text>
<text x="38.5" y="517.2" font-size="7.0" text-anchor="middle" fill="#345a80" font-weight="normal" stroke="#345a80" stroke-width="0.12"  style="">46</text>
<text x="60.05" y="507.2" font-size="7.0" text-anchor="middle" fill="#c83a5a" font-weight="normal" stroke="#c83a5a" stroke-width="0.12"  style="">430</text>
<text x="60.05" y="517.2" font-size="7.0" text-anchor="middle" fill="#345a80" font-weight="normal" stroke="#345a80" stroke-width="0.12"  style="">35</text>
<text x="81.6" y="507.2" font-size="7.0" text-anchor="middle" fill="#c83a5a" font-weight="normal" stroke="#c83a5a" stroke-width="0.12"  style="">343</text>
<text x="81.6" y="517.2" font-size="7.0" text-anchor="middle" fill="#345a80" font-weight="normal" stroke="#345a80" stroke-width="0.12"  style="">21</text>
<text x="103.15" y="507.2" font-size="7.0" text-anchor="middle" fill="#c83a5a" font-weight="normal" stroke="#c83a5a" stroke-width="0.12"  style="">81</text>
<text x="103.15" y="517.2" font-size="7.0" text-anchor="middle" fill="#345a80" font-weight="normal" stroke="#345a80" stroke-width="0.12"  style="">4</text>
<text x="124.7" y="507.2" font-size="7.0" text-anchor="middle" fill="#c83a5a" font-weight="normal" stroke="#c83a5a" stroke-width="0.12"  style="">0</text>
<text x="124.7" y="517.2" font-size="7.0" text-anchor="middle" fill="#345a80" font-weight="normal" stroke="#345a80" stroke-width="0.12"  style="">0</text>
<line x1="206.5" y1="369.8" x2="206.5" y2="462" stroke="#333" stroke-width="1.0" />
<line x1="203.9" y1="458.6" x2="206.5" y2="458.6" stroke="#333" stroke-width="0.9" />
<text x="202.9" y="461" font-size="7.0" text-anchor="end" fill="#333" font-weight="normal" stroke="#333" stroke-width="0.12" textLength="10.2" lengthAdjust="spacingAndGlyphs"  style="">0.0</text>
<line x1="203.9" y1="415.6" x2="206.5" y2="415.6" stroke="#333" stroke-width="0.9" />
<text x="202.9" y="418" font-size="7.0" text-anchor="end" fill="#333" font-weight="normal" stroke="#333" stroke-width="0.12" textLength="10.2" lengthAdjust="spacingAndGlyphs"  style="">0.5</text>
<line x1="203.9" y1="372.6" x2="206.5" y2="372.6" stroke="#333" stroke-width="0.9" />
<text x="202.9" y="375" font-size="7.0" text-anchor="end" fill="#333" font-weight="normal" stroke="#333" stroke-width="0.12" textLength="10.2" lengthAdjust="spacingAndGlyphs"  style="">1.0</text>
<line x1="206" y1="461.5" x2="299.6" y2="461.5" stroke="#333" stroke-width="1.0" />
<line x1="210.2" y1="461.5" x2="210.2" y2="464" stroke="#333" stroke-width="0.9" />
<text x="210.2" y="473.6" font-size="7.0" text-anchor="middle" fill="#333" font-weight="normal" stroke="#333" stroke-width="0.12"  style="">0</text>
<line x1="231.75" y1="461.5" x2="231.75" y2="464" stroke="#333" stroke-width="0.9" />
<text x="231.75" y="473.6" font-size="7.0" text-anchor="middle" fill="#333" font-weight="normal" stroke="#333" stroke-width="0.12"  style="">2</text>
<line x1="253.3" y1="461.5" x2="253.3" y2="464" stroke="#333" stroke-width="0.9" />
<text x="253.3" y="473.6" font-size="7.0" text-anchor="middle" fill="#333" font-weight="normal" stroke="#333" stroke-width="0.12"  style="">4</text>
<line x1="274.85" y1="461.5" x2="274.85" y2="464" stroke="#333" stroke-width="0.9" />
<text x="274.85" y="473.6" font-size="7.0" text-anchor="middle" fill="#333" font-weight="normal" stroke="#333" stroke-width="0.12"  style="">6</text>
<line x1="296.4" y1="461.5" x2="296.4" y2="464" stroke="#333" stroke-width="0.9" />
<text x="296.4" y="473.6" font-size="7.0" text-anchor="middle" fill="#333" font-weight="normal" stroke="#333" stroke-width="0.12"  style="">8</text>
<text x="253.3" y="485.6" font-size="8.0" text-anchor="middle" fill="#333" font-weight="normal" stroke="#333" stroke-width="0.12" textLength="24" lengthAdjust="spacingAndGlyphs"  style="">(Years)</text>
<text transform="translate(186.77,415.8) rotate(-90)" x="0" y="0" font-size="8.2" text-anchor="middle" fill="#333" stroke="#333" stroke-width="0.12" textLength="75" lengthAdjust="spacingAndGlyphs">Progression-free survival</text>
<text x="253.3" y="364" font-size="9.0" text-anchor="middle" fill="#222" font-weight="normal" stroke="#222" stroke-width="0.12"  style="">Immature Neutrophil</text>
<text x="255.4" y="352.4" font-size="6.5" text-anchor="middle" fill="#333" font-weight="normal" stroke="#333" stroke-width="0.12"  style="">MMRF, <tspan font-style="italic">P</tspan> &lt; .001</text>
<line x1="302.4" y1="373.2" x2="317.2" y2="373.2" stroke="#b8203e" stroke-width="1.1" />
<line x1="302.4" y1="383.2" x2="317.2" y2="383.2" stroke="#1e4e78" stroke-width="1.1" />
<text x="320.2" y="375.6" font-size="7.0" text-anchor="start" fill="#444" font-weight="normal" stroke="#444" stroke-width="0.12" textLength="13.9" lengthAdjust="spacingAndGlyphs"  style="">High</text>
<text x="320.2" y="385.6" font-size="7.0" text-anchor="start" fill="#444" font-weight="normal" stroke="#444" stroke-width="0.12" textLength="11.6" lengthAdjust="spacingAndGlyphs"  style="">Low</text>
<path d="M210,372.8 L211.8,372.8 L211.8,375.33 L213.6,375.33 L213.6,377.87 L215.4,377.87 L215.4,380.4 L217.33,380.4 L217.33,383.6 L219.27,383.6 L219.27,386.8 L221.2,386.8 L221.2,390 L223.1,390 L223.1,392.9 L225,392.9 L225,395.8 L227.9,395.8 L227.9,401.5 L229.8,401.5 L229.8,409.2 L231.7,409.2 L231.7,421.7 L233.65,421.7 L233.65,422.2 L235.6,422.2 L235.6,422.7 L238.5,422.7 L238.5,430.4 L240.4,430.4 L240.4,436.2 L242.3,436.2 L242.3,437.15 L244.2,437.15 L244.2,438.1 L246.6,438.1 L246.6,439.05 L249,439.05 L249,440 L251.9,440 L251.9,442.9 L253.8,442.9 L253.8,446.7 L255.75,446.7 L255.75,447.4 L257.7,447.4 L257.7,448.1 L259.82,448.1 L259.82,448.1 L261.94,448.1 L261.94,448.1 L264.06,448.1 L264.06,448.1 L266.18,448.1 L266.18,448.1 L268.3,448.1 L268.3,448.1 L268.8,453.5 L270.64,453.5 L270.64,453.5 L272.48,453.5 L272.48,453.5 L274.32,453.5 L274.32,453.5 L276.16,453.5 L276.16,453.5 L278,453.5 L278,453.5 L279.84,453.5 L279.84,453.5 L281.68,453.5 L281.68,453.5 L283.52,453.5 L283.52,453.5 L285.36,453.5 L285.36,453.5 L287.2,453.5 L287.2,453.5" stroke="#3474a4" fill="none" stroke-width="0.9" stroke-linejoin="round" stroke-linecap="butt"/>
<path d="M223.5,391.71 v3.6 M222.2,393.51 h2.6 M234.5,420.62 v3.6 M233.2,422.42 h2.6 M252,441.3 v3.6 M250.7,443.1 h2.6 M257.5,446.23 v3.6 M256.2,448.03 h2.6 M264,446.3 v3.6 M262.7,448.1 h2.6 M266.5,446.3 v3.6 M265.2,448.1 h2.6 M286,451.7 v3.6 M284.7,453.5 h2.6 " stroke="#3474a4" fill="none" stroke-width="0.8" />
<path d="M210,372.8 L215.4,379.4 L219.2,384.2 L223.1,390 L226.9,395.8 L230.8,401.5 L234.6,406.3 L238.5,410.2 L244.2,415 L250,420.8 L255.8,425.6 L261.5,428.5 L269.2,432.3 L276.9,435.2 L284.6,437.1 L292,437.7" stroke="#cf1d42" fill="none" stroke-width="3.0" stroke-linejoin="round" stroke-linecap="butt"/>
<path d="M286.57,434.96 v4.6 M285.07,437.26 h3 M285.93,434.91 v4.6 M284.43,437.21 h3 M216.41,378.38 v4.6 M214.91,380.68 h3 M218.62,381.17 v4.6 M217.12,383.47 h3 M277.17,432.97 v4.6 M275.67,435.27 h3 M269.41,430.08 v4.6 M267.91,432.38 h3 M264.24,427.55 v4.6 M262.74,429.85 h3 M236.03,405.43 v4.6 M234.53,407.73 h3 M259.26,425.06 v4.6 M257.76,427.36 h3 M259.33,425.1 v4.6 M257.83,427.4 h3 M257.33,424.08 v4.6 M255.83,426.38 h3 M224.35,389.61 v4.6 M222.85,391.91 h3 M245.59,414.09 v4.6 M244.09,416.39 h3 M242.7,411.43 v4.6 M241.2,413.73 h3 M268.39,429.6 v4.6 M266.89,431.9 h3 M289.6,435.21 v4.6 M288.1,437.51 h3 M286.05,434.92 v4.6 M284.55,437.22 h3 M254.45,422.18 v4.6 M252.95,424.48 h3 M246.7,415.2 v4.6 M245.2,417.5 h3 M232.92,401.88 v4.6 M231.42,404.18 h3 M214.8,376.37 v4.6 M213.3,378.67 h3 M214.14,375.56 v4.6 M212.64,377.86 h3 M248.26,416.76 v4.6 M246.76,419.06 h3 M236.84,406.24 v4.6 M235.34,408.54 h3 M241.64,410.55 v4.6 M240.14,412.85 h3 M281.56,434.05 v4.6 M280.06,436.35 h3 M253.01,420.99 v4.6 M251.51,423.29 h3 M255.72,423.23 v4.6 M254.22,425.53 h3 M230.42,398.64 v4.6 M228.92,400.94 h3 M213.86,375.22 v4.6 M212.36,377.52 h3 M237.36,406.76 v4.6 M235.86,409.06 h3 M222.66,387.05 v4.6 M221.16,389.35 h3 M251.8,419.99 v4.6 M250.3,422.29 h3 M289.9,435.23 v4.6 M288.4,437.53 h3 M264.61,427.73 v4.6 M263.11,430.03 h3 M226.18,392.41 v4.6 M224.68,394.71 h3 M281.7,434.08 v4.6 M280.2,436.38 h3 M274.15,431.86 v4.6 M272.65,434.16 h3 M269.28,430.03 v4.6 M267.78,432.33 h3 M282.71,434.33 v4.6 M281.21,436.63 h3 M271.51,430.87 v4.6 M270.01,433.17 h3 M273.6,431.66 v4.6 M272.1,433.96 h3 M239.6,408.82 v4.6 M238.1,411.12 h3 M288.52,435.12 v4.6 M287.02,437.42 h3 M287.03,435 v4.6 M285.53,437.3 h3 M224.57,389.95 v4.6 M223.07,392.25 h3 M270.81,430.61 v4.6 M269.31,432.91 h3 M267.78,429.3 v4.6 M266.28,431.6 h3 M247.99,416.49 v4.6 M246.49,418.79 h3 M253.37,421.29 v4.6 M251.87,423.59 h3 M250.22,418.68 v4.6 M248.72,420.98 h3 M284.14,434.69 v4.6 M282.64,436.99 h3 M251.07,419.38 v4.6 M249.57,421.68 h3 M276.86,432.88 v4.6 M275.36,435.18 h3 M239.61,408.83 v4.6 M238.11,411.13 h3 M280.86,433.88 v4.6 M279.36,436.18 h3 M282.18,434.2 v4.6 M280.68,436.5 h3 M247.96,416.46 v4.6 M246.46,418.76 h3 M256.28,423.54 v4.6 M254.78,425.84 h3 M283.79,434.6 v4.6 M282.29,436.9 h3 M268.45,429.63 v4.6 M266.95,431.93 h3 M249.96,418.46 v4.6 M248.46,420.76 h3 M229.3,397.01 v4.6 M227.8,399.31 h3 M237.32,406.72 v4.6 M235.82,409.02 h3 M266.57,428.7 v4.6 M265.07,431 h3 M224.95,390.53 v4.6 M223.45,392.83 h3 M282.82,434.36 v4.6 M281.32,436.66 h3 M232.91,401.87 v4.6 M231.41,404.17 h3 M283.09,434.43 v4.6 M281.59,436.73 h3 M236.15,405.55 v4.6 M234.65,407.85 h3 M286.67,434.97 v4.6 M285.17,437.27 h3 M267.08,428.96 v4.6 M265.58,431.26 h3 M251.33,419.6 v4.6 M249.83,421.9 h3 M252.38,420.47 v4.6 M250.88,422.77 h3 M262.81,426.85 v4.6 M261.31,429.15 h3 " stroke="#cf1d42" fill="none" stroke-width="1.0" />
<text x="207" y="496.8" font-size="6.8" text-anchor="start" fill="#333" font-weight="normal" stroke="#333" stroke-width="0.12" textLength="45" lengthAdjust="spacingAndGlyphs"  style="">Number  at risk</text>
<text x="187.5" y="507.2" font-size="6.8" text-anchor="start" fill="#c83a5a" font-weight="normal" stroke="#c83a5a" stroke-width="0.12" textLength="14" lengthAdjust="spacingAndGlyphs"  style="">High</text>
<text x="187.5" y="517.2" font-size="6.8" text-anchor="start" fill="#345a80" font-weight="normal" stroke="#345a80" stroke-width="0.12" textLength="12.4" lengthAdjust="spacingAndGlyphs"  style="">Low</text>
<text x="210.5" y="507.2" font-size="7.0" text-anchor="middle" fill="#c83a5a" font-weight="normal" stroke="#c83a5a" stroke-width="0.12"  style="">579</text>
<text x="210.5" y="517.2" font-size="7.0" text-anchor="middle" fill="#345a80" font-weight="normal" stroke="#345a80" stroke-width="0.12"  style="">47</text>
<text x="232.05" y="507.2" font-size="7.0" text-anchor="middle" fill="#c83a5a" font-weight="normal" stroke="#c83a5a" stroke-width="0.12"  style="">332</text>
<text x="232.05" y="517.2" font-size="7.0" text-anchor="middle" fill="#345a80" font-weight="normal" stroke="#345a80" stroke-width="0.12"  style="">21</text>
<text x="253.6" y="507.2" font-size="7.0" text-anchor="middle" fill="#c83a5a" font-weight="normal" stroke="#c83a5a" stroke-width="0.12"  style="">185</text>
<text x="253.6" y="517.2" font-size="7.0" text-anchor="middle" fill="#345a80" font-weight="normal" stroke="#345a80" stroke-width="0.12"  style="">7</text>
<text x="275.15" y="507.2" font-size="7.0" text-anchor="middle" fill="#c83a5a" font-weight="normal" stroke="#c83a5a" stroke-width="0.12"  style="">33</text>
<text x="275.15" y="517.2" font-size="7.0" text-anchor="middle" fill="#345a80" font-weight="normal" stroke="#345a80" stroke-width="0.12"  style="">1</text>
<text x="296.7" y="507.2" font-size="7.0" text-anchor="middle" fill="#c83a5a" font-weight="normal" stroke="#c83a5a" stroke-width="0.12"  style="">0</text>
<text x="296.7" y="517.2" font-size="7.0" text-anchor="middle" fill="#345a80" font-weight="normal" stroke="#345a80" stroke-width="0.12"  style="">0</text>
<line x1="34.5" y1="557.8" x2="34.5" y2="650" stroke="#333" stroke-width="1.0" />
<line x1="31.9" y1="646.6" x2="34.5" y2="646.6" stroke="#333" stroke-width="0.9" />
<text x="30.9" y="649" font-size="7.0" text-anchor="end" fill="#333" font-weight="normal" stroke="#333" stroke-width="0.12" textLength="10.2" lengthAdjust="spacingAndGlyphs"  style="">0.0</text>
<line x1="31.9" y1="603.6" x2="34.5" y2="603.6" stroke="#333" stroke-width="0.9" />
<text x="30.9" y="606" font-size="7.0" text-anchor="end" fill="#333" font-weight="normal" stroke="#333" stroke-width="0.12" textLength="10.2" lengthAdjust="spacingAndGlyphs"  style="">0.5</text>
<line x1="31.9" y1="560.6" x2="34.5" y2="560.6" stroke="#333" stroke-width="0.9" />
<text x="30.9" y="563" font-size="7.0" text-anchor="end" fill="#333" font-weight="normal" stroke="#333" stroke-width="0.12" textLength="10.2" lengthAdjust="spacingAndGlyphs"  style="">1.0</text>
<line x1="34" y1="649.5" x2="127.6" y2="649.5" stroke="#333" stroke-width="1.0" />
<line x1="38.2" y1="649.5" x2="38.2" y2="652" stroke="#333" stroke-width="0.9" />
<text x="38.2" y="661.6" font-size="7.0" text-anchor="middle" fill="#333" font-weight="normal" stroke="#333" stroke-width="0.12"  style="">0</text>
<line x1="59.75" y1="649.5" x2="59.75" y2="652" stroke="#333" stroke-width="0.9" />
<text x="59.75" y="661.6" font-size="7.0" text-anchor="middle" fill="#333" font-weight="normal" stroke="#333" stroke-width="0.12"  style="">2</text>
<line x1="81.3" y1="649.5" x2="81.3" y2="652" stroke="#333" stroke-width="0.9" />
<text x="81.3" y="661.6" font-size="7.0" text-anchor="middle" fill="#333" font-weight="normal" stroke="#333" stroke-width="0.12"  style="">4</text>
<line x1="102.85" y1="649.5" x2="102.85" y2="652" stroke="#333" stroke-width="0.9" />
<text x="102.85" y="661.6" font-size="7.0" text-anchor="middle" fill="#333" font-weight="normal" stroke="#333" stroke-width="0.12"  style="">6</text>
<line x1="124.4" y1="649.5" x2="124.4" y2="652" stroke="#333" stroke-width="0.9" />
<text x="124.4" y="661.6" font-size="7.0" text-anchor="middle" fill="#333" font-weight="normal" stroke="#333" stroke-width="0.12"  style="">8</text>
<text x="81.3" y="673.6" font-size="8.0" text-anchor="middle" fill="#333" font-weight="normal" stroke="#333" stroke-width="0.12" textLength="24" lengthAdjust="spacingAndGlyphs"  style="">(Years)</text>
<text transform="translate(14.77,603.8) rotate(-90)" x="0" y="0" font-size="8.2" text-anchor="middle" fill="#333" stroke="#333" stroke-width="0.12" textLength="47" lengthAdjust="spacingAndGlyphs">Overall survival</text>
<text x="81.3" y="552" font-size="9.0" text-anchor="middle" fill="#222" font-weight="normal" stroke="#222" stroke-width="0.12"  style="">Mature Neutrophil</text>
<text x="80.7" y="540.4" font-size="6.5" text-anchor="middle" fill="#333" font-weight="normal" stroke="#333" stroke-width="0.12"  style="">MMRF, <tspan font-style="italic">P</tspan> = .05</text>
<line x1="130.8" y1="561.2" x2="145.6" y2="561.2" stroke="#b8203e" stroke-width="1.1" />
<line x1="130.8" y1="571.2" x2="145.6" y2="571.2" stroke="#1e4e78" stroke-width="1.1" />
<text x="148.6" y="563.6" font-size="7.0" text-anchor="start" fill="#444" font-weight="normal" stroke="#444" stroke-width="0.12" textLength="13.9" lengthAdjust="spacingAndGlyphs"  style="">High</text>
<text x="148.6" y="573.6" font-size="7.0" text-anchor="start" fill="#444" font-weight="normal" stroke="#444" stroke-width="0.12" textLength="11.6" lengthAdjust="spacingAndGlyphs"  style="">Low</text>
<path d="M38.2,560.6 L41.5,560.6 L41.5,563.5 L45.4,563.5 L45.4,566.3 L49.2,566.3 L49.2,569.2 L53.1,569.2 L53.1,575 L56.9,575 L56.9,577.9 L60.8,577.9 L60.8,580.8 L64.6,580.8 L64.6,583.7 L68.5,583.7 L68.5,584.6 L72.3,584.6 L72.3,586.5 L76.2,586.5 L76.2,590.4 L79.05,590.4 L79.05,592.3 L81.9,592.3 L81.9,594.2 L84.8,594.2 L84.8,595.2 L87.7,595.2 L87.7,596.2 L90.6,596.2 L90.6,597.15 L93.5,597.15 L93.5,598.1 L96.35,598.1 L96.35,599.05 L99.2,599.05 L99.2,600 L103.1,600 L103.1,601.9 L105,601.9 L105,605.8 L106.9,605.8 L106.9,607.5 L109.18,607.5 L109.18,607.5 L111.47,607.5 L111.47,607.5 L113.75,607.5 L113.75,607.5 L116.03,607.5 L116.03,607.5 L118.32,607.5 L118.32,607.5 L120.6,607.5 L120.6,607.5" stroke="#cf1d42" fill="none" stroke-width="0.9" stroke-linejoin="round" stroke-linecap="butt"/>
<path d="M53,573.05 v3.6 M51.7,574.85 h2.6 M57,576.17 v3.6 M55.7,577.97 h2.6 M62,579.92 v3.6 M60.7,581.72 h2.6 M65,581.99 v3.6 M63.7,583.79 h2.6 M84,593.12 v3.6 M82.7,594.92 h2.6 M86,593.81 v3.6 M84.7,595.61 h2.6 M88,594.5 v3.6 M86.7,596.3 h2.6 M90,595.15 v3.6 M88.7,596.95 h2.6 M92,595.81 v3.6 M90.7,597.61 h2.6 M94,596.47 v3.6 M92.7,598.27 h2.6 M96,597.13 v3.6 M94.7,598.93 h2.6 M106,604.89 v3.6 M104.7,606.69 h2.6 M108,605.7 v3.6 M106.7,607.5 h2.6 M110,605.7 v3.6 M108.7,607.5 h2.6 M112,605.7 v3.6 M110.7,607.5 h2.6 M115,605.7 v3.6 M113.7,607.5 h2.6 M118,605.7 v3.6 M116.7,607.5 h2.6 " stroke="#cf1d42" fill="none" stroke-width="0.8" />
<path d="M38.2,560.6 L41.5,562.5 L45.4,564.4 L49.2,567.3 L53.1,570.2 L56.9,573.1 L60.8,576 L64.6,577.9 L68.5,579.8 L74.2,582.7 L80,584.6 L85.8,586.5 L91.5,589.4 L97.3,592.3 L103.1,595.2 L106.9,597 L122.6,597" stroke="#125888" fill="none" stroke-width="3.0" stroke-linejoin="round" stroke-linecap="butt"/>
<line x1="122.6" y1="597" x2="122.6" y2="609.6" stroke="#125888" stroke-width="0.9" />
<path d="M59.28,572.57 v4.6 M57.78,574.87 h3 M84.08,583.64 v4.6 M82.58,585.94 h3 M69.97,578.25 v4.6 M68.47,580.55 h3 M88.92,585.79 v4.6 M87.42,588.09 h3 M90.68,586.68 v4.6 M89.18,588.98 h3 M45.31,562.06 v4.6 M43.81,564.36 h3 M41.07,559.95 v4.6 M39.57,562.25 h3 M107.83,594.7 v4.6 M106.33,597 h3 M61.01,573.8 v4.6 M59.51,576.1 h3 M58.98,572.35 v4.6 M57.48,574.65 h3 M120.65,594.7 v4.6 M119.15,597 h3 M78.09,581.67 v4.6 M76.59,583.97 h3 M107.75,594.7 v4.6 M106.25,597 h3 M78.58,581.84 v4.6 M77.08,584.14 h3 M91.76,587.23 v4.6 M90.26,589.53 h3 M52.2,567.23 v4.6 M50.7,569.53 h3 M91.42,587.06 v4.6 M89.92,589.36 h3 M110.31,594.7 v4.6 M108.81,597 h3 M82.38,583.08 v4.6 M80.88,585.38 h3 M100.04,591.37 v4.6 M98.54,593.67 h3 M94.38,588.54 v4.6 M92.88,590.84 h3 M45.19,562 v4.6 M43.69,564.3 h3 M101.42,592.06 v4.6 M99.92,594.36 h3 M87.88,585.26 v4.6 M86.38,587.56 h3 M64.4,575.5 v4.6 M62.9,577.8 h3 M42.51,560.69 v4.6 M41.01,562.99 h3 M110.11,594.7 v4.6 M108.61,597 h3 M78.29,581.74 v4.6 M76.79,584.04 h3 M98.22,590.46 v4.6 M96.72,592.76 h3 M111.18,594.7 v4.6 M109.68,597 h3 M97.84,590.27 v4.6 M96.34,592.57 h3 M114.61,594.7 v4.6 M113.11,597 h3 M71.99,579.28 v4.6 M70.49,581.58 h3 M104.87,593.74 v4.6 M103.37,596.04 h3 M76.01,580.99 v4.6 M74.51,583.29 h3 M115.78,594.7 v4.6 M114.28,597 h3 M111.19,594.7 v4.6 M109.69,597 h3 M47.89,564 v4.6 M46.39,566.3 h3 M51.01,566.35 v4.6 M49.51,568.65 h3 M57.58,571.3 v4.6 M56.08,573.6 h3 M118.2,594.7 v4.6 M116.7,597 h3 M75.33,580.77 v4.6 M73.83,583.07 h3 M90.76,586.72 v4.6 M89.26,589.02 h3 M64.38,575.49 v4.6 M62.88,577.79 h3 M81.09,582.66 v4.6 M79.59,584.96 h3 M71.26,578.9 v4.6 M69.76,581.2 h3 M68.42,577.46 v4.6 M66.92,579.76 h3 M87.39,585.01 v4.6 M85.89,587.31 h3 M87.32,584.98 v4.6 M85.82,587.28 h3 M113.24,594.7 v4.6 M111.74,597 h3 M95.24,588.97 v4.6 M93.74,591.27 h3 M115.24,594.7 v4.6 M113.74,597 h3 M109.37,594.7 v4.6 M107.87,597 h3 M120.27,594.7 v4.6 M118.77,597 h3 M94.37,588.54 v4.6 M92.87,590.84 h3 M53.21,567.98 v4.6 M51.71,570.28 h3 M109.71,594.7 v4.6 M108.21,597 h3 M118.14,594.7 v4.6 M116.64,597 h3 M113.28,594.7 v4.6 M111.78,597 h3 M86.1,584.35 v4.6 M84.6,586.65 h3 M97.82,590.26 v4.6 M96.32,592.56 h3 M57.1,570.95 v4.6 M55.6,573.25 h3 M107.36,594.7 v4.6 M105.86,597 h3 M86.46,584.53 v4.6 M84.96,586.83 h3 M63.08,574.84 v4.6 M61.58,577.14 h3 M45.14,561.97 v4.6 M43.64,564.27 h3 M109.17,594.7 v4.6 M107.67,597 h3 M120.17,594.7 v4.6 M118.67,597 h3 M47.17,563.45 v4.6 M45.67,565.75 h3 M104.85,593.73 v4.6 M103.35,596.03 h3 M73.25,579.92 v4.6 M71.75,582.22 h3 M52.21,567.24 v4.6 M50.71,569.54 h3 M63.81,575.2 v4.6 M62.31,577.5 h3 M102.27,592.49 v4.6 M100.77,594.79 h3 M110.69,594.7 v4.6 M109.19,597 h3 " stroke="#125888" fill="none" stroke-width="1.0" />
<path d="M123.6,607.6 v3.6 M122.1,609.4 h3 " stroke="#125888" fill="none" stroke-width="0.9" />
<text x="35" y="684.8" font-size="6.8" text-anchor="start" fill="#333" font-weight="normal" stroke="#333" stroke-width="0.12" textLength="45" lengthAdjust="spacingAndGlyphs"  style="">Number  at risk</text>
<text x="15.5" y="695.2" font-size="6.8" text-anchor="start" fill="#c83a5a" font-weight="normal" stroke="#c83a5a" stroke-width="0.12" textLength="14" lengthAdjust="spacingAndGlyphs"  style="">High</text>
<text x="15.5" y="705.2" font-size="6.8" text-anchor="start" fill="#345a80" font-weight="normal" stroke="#345a80" stroke-width="0.12" textLength="12.4" lengthAdjust="spacingAndGlyphs"  style="">Low</text>
<text x="38.5" y="695.2" font-size="7.0" text-anchor="middle" fill="#c83a5a" font-weight="normal" stroke="#c83a5a" stroke-width="0.12"  style="">105</text>
<text x="38.5" y="705.2" font-size="7.0" text-anchor="middle" fill="#345a80" font-weight="normal" stroke="#345a80" stroke-width="0.12"  style="">526</text>
<text x="60.05" y="695.2" font-size="7.0" text-anchor="middle" fill="#c83a5a" font-weight="normal" stroke="#c83a5a" stroke-width="0.12"  style="">70</text>
<text x="60.05" y="705.2" font-size="7.0" text-anchor="middle" fill="#345a80" font-weight="normal" stroke="#345a80" stroke-width="0.12"  style="">395</text>
<text x="81.6" y="695.2" font-size="7.0" text-anchor="middle" fill="#c83a5a" font-weight="normal" stroke="#c83a5a" stroke-width="0.12"  style="">53</text>
<text x="81.6" y="705.2" font-size="7.0" text-anchor="middle" fill="#345a80" font-weight="normal" stroke="#345a80" stroke-width="0.12"  style="">311</text>
<text x="103.15" y="695.2" font-size="7.0" text-anchor="middle" fill="#c83a5a" font-weight="normal" stroke="#c83a5a" stroke-width="0.12"  style="">9</text>
<text x="103.15" y="705.2" font-size="7.0" text-anchor="middle" fill="#345a80" font-weight="normal" stroke="#345a80" stroke-width="0.12"  style="">76</text>
<text x="124.7" y="695.2" font-size="7.0" text-anchor="middle" fill="#c83a5a" font-weight="normal" stroke="#c83a5a" stroke-width="0.12"  style="">0</text>
<text x="124.7" y="705.2" font-size="7.0" text-anchor="middle" fill="#345a80" font-weight="normal" stroke="#345a80" stroke-width="0.12"  style="">0</text>
<line x1="206.5" y1="557.8" x2="206.5" y2="650" stroke="#333" stroke-width="1.0" />
<line x1="203.9" y1="646.6" x2="206.5" y2="646.6" stroke="#333" stroke-width="0.9" />
<text x="202.9" y="649" font-size="7.0" text-anchor="end" fill="#333" font-weight="normal" stroke="#333" stroke-width="0.12" textLength="10.2" lengthAdjust="spacingAndGlyphs"  style="">0.0</text>
<line x1="203.9" y1="603.6" x2="206.5" y2="603.6" stroke="#333" stroke-width="0.9" />
<text x="202.9" y="606" font-size="7.0" text-anchor="end" fill="#333" font-weight="normal" stroke="#333" stroke-width="0.12" textLength="10.2" lengthAdjust="spacingAndGlyphs"  style="">0.5</text>
<line x1="203.9" y1="560.6" x2="206.5" y2="560.6" stroke="#333" stroke-width="0.9" />
<text x="202.9" y="563" font-size="7.0" text-anchor="end" fill="#333" font-weight="normal" stroke="#333" stroke-width="0.12" textLength="10.2" lengthAdjust="spacingAndGlyphs"  style="">1.0</text>
<line x1="206" y1="649.5" x2="297.8" y2="649.5" stroke="#333" stroke-width="1.0" />
<line x1="210.2" y1="649.5" x2="210.2" y2="652" stroke="#333" stroke-width="0.9" />
<text x="210.2" y="661.6" font-size="7.0" text-anchor="middle" fill="#333" font-weight="normal" stroke="#333" stroke-width="0.12"  style="">0</text>
<line x1="231.3" y1="649.5" x2="231.3" y2="652" stroke="#333" stroke-width="0.9" />
<text x="231.3" y="661.6" font-size="7.0" text-anchor="middle" fill="#333" font-weight="normal" stroke="#333" stroke-width="0.12"  style="">2</text>
<line x1="252.4" y1="649.5" x2="252.4" y2="652" stroke="#333" stroke-width="0.9" />
<text x="252.4" y="661.6" font-size="7.0" text-anchor="middle" fill="#333" font-weight="normal" stroke="#333" stroke-width="0.12"  style="">4</text>
<line x1="273.5" y1="649.5" x2="273.5" y2="652" stroke="#333" stroke-width="0.9" />
<text x="273.5" y="661.6" font-size="7.0" text-anchor="middle" fill="#333" font-weight="normal" stroke="#333" stroke-width="0.12"  style="">6</text>
<line x1="294.6" y1="649.5" x2="294.6" y2="652" stroke="#333" stroke-width="0.9" />
<text x="294.6" y="661.6" font-size="7.0" text-anchor="middle" fill="#333" font-weight="normal" stroke="#333" stroke-width="0.12"  style="">8</text>
<text x="252.4" y="673.6" font-size="8.0" text-anchor="middle" fill="#333" font-weight="normal" stroke="#333" stroke-width="0.12" textLength="24" lengthAdjust="spacingAndGlyphs"  style="">(Years)</text>
<text transform="translate(186.77,603.8) rotate(-90)" x="0" y="0" font-size="8.2" text-anchor="middle" fill="#333" stroke="#333" stroke-width="0.12" textLength="75" lengthAdjust="spacingAndGlyphs">Progression-free survival</text>
<text x="253.3" y="552" font-size="9.0" text-anchor="middle" fill="#222" font-weight="normal" stroke="#222" stroke-width="0.12"  style="">Mature Neutrophil</text>
<text x="252.7" y="540.4" font-size="6.5" text-anchor="middle" fill="#333" font-weight="normal" stroke="#333" stroke-width="0.12"  style="">MMRF, P = .65</text>
<line x1="302.4" y1="561.2" x2="317.2" y2="561.2" stroke="#b8203e" stroke-width="1.1" />
<line x1="302.4" y1="571.2" x2="317.2" y2="571.2" stroke="#1e4e78" stroke-width="1.1" />
<text x="320.2" y="563.6" font-size="7.0" text-anchor="start" fill="#444" font-weight="normal" stroke="#444" stroke-width="0.12" textLength="13.9" lengthAdjust="spacingAndGlyphs"  style="">High</text>
<text x="320.2" y="573.6" font-size="7.0" text-anchor="start" fill="#444" font-weight="normal" stroke="#444" stroke-width="0.12" textLength="11.6" lengthAdjust="spacingAndGlyphs"  style="">Low</text>
<path d="M210,560.8 L211.8,560.8 L211.8,562.47 L213.6,562.47 L213.6,564.13 L215.4,564.13 L215.4,565.8 L217.3,565.8 L217.3,568.4 L219.2,568.4 L219.2,571 L221.15,571 L221.15,575.5 L223.1,575.5 L223.1,580 L225,580 L225,584.75 L226.9,584.75 L226.9,589.5 L228.85,589.5 L228.85,591.25 L230.8,591.25 L230.8,593 L232.7,593 L232.7,595.6 L234.6,595.6 L234.6,598.2 L236.55,598.2 L236.55,600.1 L238.5,600.1 L238.5,602 L240.4,602 L240.4,603.33 L242.3,603.33 L242.3,604.67 L244.2,604.67 L244.2,606 L246.13,606 L246.13,607.5 L248.07,607.5 L248.07,609 L250,609 L250,610.5 L251.93,610.5 L251.93,612 L253.87,612 L253.87,613.5 L255.8,613.5 L255.8,615 L257.7,615 L257.7,616 L259.6,616 L259.6,617 L261.5,617 L261.5,618 L263.43,618 L263.43,619 L265.37,619 L265.37,620 L267.3,620 L267.3,621 L269.23,621 L269.23,621.67 L271.17,621.67 L271.17,622.33 L273.1,622.33 L273.1,623 L275,623 L275,624.6 L276.9,624.6 L276.9,626.2 L278.85,626.2 L278.85,628.1 L280.8,628.1 L280.8,630 L282.7,630 L282.7,631.45 L284.6,631.45 L284.6,632.9 L286.8,632.9 L286.8,632.9 L289,632.9 L289,632.9" stroke="#cf1d42" fill="none" stroke-width="0.9" stroke-linejoin="round" stroke-linecap="butt"/>
<path d="M227,587.79 v3.6 M225.7,589.59 h2.6 M229,589.58 v3.6 M227.7,591.38 h2.6 M234,595.58 v3.6 M232.7,597.38 h2.6 M237,598.74 v3.6 M235.7,600.54 h2.6 M255.5,612.97 v3.6 M254.2,614.77 h2.6 M258,614.36 v3.6 M256.7,616.16 h2.6 M262,616.46 v3.6 M260.7,618.26 h2.6 M266,618.53 v3.6 M264.7,620.33 h2.6 M272,620.82 v3.6 M270.7,622.62 h2.6 M277,624.5 v3.6 M275.7,626.3 h2.6 M279,626.45 v3.6 M277.7,628.25 h2.6 M285,631.1 v3.6 M283.7,632.9 h2.6 M287.5,631.1 v3.6 M286.2,632.9 h2.6 " stroke="#cf1d42" fill="none" stroke-width="0.8" />
<path d="M210,560.8 L215.4,565.6 L219.2,570.4 L223.1,578.1 L226.9,583.8 L230.8,589.6 L234.6,595.4 L238.5,600.2 L244.2,605 L250,609.8 L255.8,613.7 L261.5,616.5 L267.3,619.4 L273.1,621.9 L280.8,622.7 L291.5,622.7" stroke="#125888" fill="none" stroke-width="2.2" stroke-linejoin="round" stroke-linecap="butt"/>
<path d="M230.41,586.72 v4.6 M228.91,589.02 h3 M220.05,569.77 v4.6 M218.55,572.07 h3 M242.89,601.6 v4.6 M241.39,603.9 h3 M224.09,577.28 v4.6 M222.59,579.58 h3 M217.19,565.56 v4.6 M215.69,567.86 h3 M243.32,601.96 v4.6 M241.82,604.26 h3 M283.6,620.4 v4.6 M282.1,622.7 h3 M274.44,619.74 v4.6 M272.94,622.04 h3 M271.68,618.99 v4.6 M270.18,621.29 h3 M229.31,585.08 v4.6 M227.81,587.38 h3 M253.86,610.1 v4.6 M252.36,612.4 h3 M233.58,591.55 v4.6 M232.08,593.85 h3 M225.47,579.35 v4.6 M223.97,581.65 h3 M220.28,570.24 v4.6 M218.78,572.54 h3 M228.72,584.21 v4.6 M227.22,586.51 h3 M284.34,620.4 v4.6 M282.84,622.7 h3 M276.66,619.97 v4.6 M275.16,622.27 h3 M274.92,619.79 v4.6 M273.42,622.09 h3 M274.43,619.74 v4.6 M272.93,622.04 h3 M227.09,581.78 v4.6 M225.59,584.08 h3 M236.17,595.03 v4.6 M234.67,597.33 h3 M260.9,613.91 v4.6 M259.4,616.21 h3 M269.09,617.87 v4.6 M267.59,620.17 h3 M278.66,620.18 v4.6 M277.16,622.48 h3 M280.64,620.38 v4.6 M279.14,622.68 h3 M218.76,567.55 v4.6 M217.26,569.85 h3 M259.26,613.1 v4.6 M257.76,615.4 h3 M264.39,615.65 v4.6 M262.89,617.95 h3 M251.46,608.48 v4.6 M249.96,610.78 h3 M225.87,579.95 v4.6 M224.37,582.25 h3 M248.94,606.62 v4.6 M247.44,608.92 h3 M218.97,567.81 v4.6 M217.47,570.11 h3 M284.9,620.4 v4.6 M283.4,622.7 h3 M279.51,620.27 v4.6 M278.01,622.57 h3 M254.72,610.67 v4.6 M253.22,612.97 h3 M235.42,594.11 v4.6 M233.92,596.41 h3 M282.89,620.4 v4.6 M281.39,622.7 h3 M256.64,611.81 v4.6 M255.14,614.11 h3 M280.82,620.4 v4.6 M279.32,622.7 h3 M278.15,620.12 v4.6 M276.65,622.42 h3 M251.65,608.61 v4.6 M250.15,610.91 h3 M244.29,602.77 v4.6 M242.79,605.07 h3 M258.72,612.83 v4.6 M257.22,615.13 h3 M245.62,603.88 v4.6 M244.12,606.18 h3 M224.58,578.02 v4.6 M223.08,580.32 h3 M235.8,594.58 v4.6 M234.3,596.88 h3 M275.38,619.84 v4.6 M273.88,622.14 h3 M215.37,563.28 v4.6 M213.87,565.58 h3 M215.61,563.57 v4.6 M214.11,565.87 h3 M260.86,613.88 v4.6 M259.36,616.18 h3 M233.87,591.99 v4.6 M232.37,594.29 h3 M253.7,609.99 v4.6 M252.2,612.29 h3 M248.76,606.47 v4.6 M247.26,608.77 h3 M238.74,598.1 v4.6 M237.24,600.4 h3 M289.79,620.4 v4.6 M288.29,622.7 h3 M227.25,582.03 v4.6 M225.75,584.33 h3 M244.2,602.7 v4.6 M242.7,605 h3 M227.81,582.85 v4.6 M226.31,585.15 h3 M261.35,614.13 v4.6 M259.85,616.43 h3 M233.55,591.5 v4.6 M232.05,593.8 h3 M239.75,598.96 v4.6 M238.25,601.26 h3 M270.26,618.38 v4.6 M268.76,620.68 h3 M237.01,596.07 v4.6 M235.51,598.37 h3 M255.57,611.24 v4.6 M254.07,613.54 h3 M282.54,620.4 v4.6 M281.04,622.7 h3 M219.88,569.44 v4.6 M218.38,571.74 h3 M216.81,565.08 v4.6 M215.31,567.38 h3 M229.85,585.89 v4.6 M228.35,588.19 h3 M271.68,618.99 v4.6 M270.18,621.29 h3 M260,613.46 v4.6 M258.5,615.76 h3 M230.52,586.88 v4.6 M229.02,589.18 h3 M237.82,597.07 v4.6 M236.32,599.37 h3 M225.85,579.92 v4.6 M224.35,582.22 h3 M247.8,605.68 v4.6 M246.3,607.98 h3 M215.34,563.25 v4.6 M213.84,565.55 h3 " stroke="#125888" fill="none" stroke-width="1.0" />
<text x="207" y="684.8" font-size="6.8" text-anchor="start" fill="#333" font-weight="normal" stroke="#333" stroke-width="0.12" textLength="45" lengthAdjust="spacingAndGlyphs"  style="">Number  at risk</text>
<text x="187.5" y="695.2" font-size="6.8" text-anchor="start" fill="#c83a5a" font-weight="normal" stroke="#c83a5a" stroke-width="0.12" textLength="14" lengthAdjust="spacingAndGlyphs"  style="">High</text>
<text x="187.5" y="705.2" font-size="6.8" text-anchor="start" fill="#345a80" font-weight="normal" stroke="#345a80" stroke-width="0.12" textLength="12.4" lengthAdjust="spacingAndGlyphs"  style="">Low</text>
<text x="210.5" y="695.2" font-size="7.0" text-anchor="middle" fill="#c83a5a" font-weight="normal" stroke="#c83a5a" stroke-width="0.12"  style="">101</text>
<text x="210.5" y="705.2" font-size="7.0" text-anchor="middle" fill="#345a80" font-weight="normal" stroke="#345a80" stroke-width="0.12"  style="">525</text>
<text x="231.6" y="695.2" font-size="7.0" text-anchor="middle" fill="#c83a5a" font-weight="normal" stroke="#c83a5a" stroke-width="0.12"  style="">54</text>
<text x="231.6" y="705.2" font-size="7.0" text-anchor="middle" fill="#345a80" font-weight="normal" stroke="#345a80" stroke-width="0.12"  style="">299</text>
<text x="252.7" y="695.2" font-size="7.0" text-anchor="middle" fill="#c83a5a" font-weight="normal" stroke="#c83a5a" stroke-width="0.12"  style="">31</text>
<text x="252.7" y="705.2" font-size="7.0" text-anchor="middle" fill="#345a80" font-weight="normal" stroke="#345a80" stroke-width="0.12"  style="">161</text>
<text x="273.8" y="695.2" font-size="7.0" text-anchor="middle" fill="#c83a5a" font-weight="normal" stroke="#c83a5a" stroke-width="0.12"  style="">9</text>
<text x="273.8" y="705.2" font-size="7.0" text-anchor="middle" fill="#345a80" font-weight="normal" stroke="#345a80" stroke-width="0.12"  style="">25</text>
<text x="294.9" y="695.2" font-size="7.0" text-anchor="middle" fill="#c83a5a" font-weight="normal" stroke="#c83a5a" stroke-width="0.12"  style="">0</text>
<text x="294.9" y="705.2" font-size="7.0" text-anchor="middle" fill="#345a80" font-weight="normal" stroke="#345a80" stroke-width="0.12"  style="">0</text>
<line x1="384.5" y1="394.7" x2="384.5" y2="505" stroke="#222" stroke-width="1.0" />
<line x1="384" y1="504.5" x2="490.5" y2="504.5" stroke="#222" stroke-width="1.0" />
<line x1="382" y1="400.1" x2="384.5" y2="400.1" stroke="#222" stroke-width="0.8" />
<text x="378.2" y="402.6" font-size="6.9" text-anchor="end" fill="#333" font-weight="normal" stroke="#333" stroke-width="0.12" textLength="9.4" lengthAdjust="spacingAndGlyphs"  style="">0.6</text>
<line x1="382" y1="415.8" x2="384.5" y2="415.8" stroke="#222" stroke-width="0.8" />
<text x="378.2" y="418.3" font-size="6.9" text-anchor="end" fill="#333" font-weight="normal" stroke="#333" stroke-width="0.12" textLength="9.4" lengthAdjust="spacingAndGlyphs"  style="">0.4</text>
<line x1="382" y1="431.5" x2="384.5" y2="431.5" stroke="#222" stroke-width="0.8" />
<text x="378.2" y="434" font-size="6.9" text-anchor="end" fill="#333" font-weight="normal" stroke="#333" stroke-width="0.12" textLength="9.4" lengthAdjust="spacingAndGlyphs"  style="">0.2</text>
<line x1="382" y1="447.2" x2="384.5" y2="447.2" stroke="#222" stroke-width="0.8" />
<text x="378.2" y="449.7" font-size="6.9" text-anchor="end" fill="#333" font-weight="normal" stroke="#333" stroke-width="0.12" textLength="9.4" lengthAdjust="spacingAndGlyphs"  style="">0.0</text>
<line x1="382" y1="462.9" x2="384.5" y2="462.9" stroke="#222" stroke-width="0.8" />
<text x="378.2" y="465.4" font-size="6.9" text-anchor="end" fill="#333" font-weight="normal" stroke="#333" stroke-width="0.12" textLength="12.6" lengthAdjust="spacingAndGlyphs"  style="">−0.2</text>
<line x1="382" y1="478.6" x2="384.5" y2="478.6" stroke="#222" stroke-width="0.8" />
<text x="378.2" y="481.1" font-size="6.9" text-anchor="end" fill="#333" font-weight="normal" stroke="#333" stroke-width="0.12" textLength="12.6" lengthAdjust="spacingAndGlyphs"  style="">−0.4</text>
<line x1="382" y1="494.3" x2="384.5" y2="494.3" stroke="#222" stroke-width="0.8" />
<text x="378.2" y="496.8" font-size="6.9" text-anchor="end" fill="#333" font-weight="normal" stroke="#333" stroke-width="0.12" textLength="12.6" lengthAdjust="spacingAndGlyphs"  style="">−0.6</text>
<text transform="translate(360.47,450.1) rotate(-90)" x="0" y="0" font-size="8.2" text-anchor="middle" fill="#333" stroke="#333" stroke-width="0.12" textLength="75" lengthAdjust="spacingAndGlyphs">Activated T-cell signature</text>
<line x1="409.2" y1="397.75" x2="409.2" y2="425.61" stroke="#222" stroke-width="0.85" stroke-dasharray="3.2,1.9"/>
<line x1="409.2" y1="471.53" x2="409.2" y2="500.58" stroke="#222" stroke-width="0.85" stroke-dasharray="3.2,1.9"/>
<line x1="401" y1="397.75" x2="417.4" y2="397.75" stroke="#222" stroke-width="0.8" />
<line x1="401" y1="500.58" x2="417.4" y2="500.58" stroke="#222" stroke-width="0.8" />
<rect x="391.9" y="425.61" width="34.6" height="45.92" fill="#c8153a" stroke="none" stroke-width="0.8" />
<line x1="391.9" y1="445.63" x2="426.5" y2="445.63" stroke="#3a1a22" stroke-width="1.0" />
<line x1="409.2" y1="504.5" x2="409.2" y2="507" stroke="#222" stroke-width="0.7" />
<text x="409.2" y="516.9" font-size="7.0" text-anchor="middle" fill="#333" font-weight="normal" stroke="#333" stroke-width="0.12" textLength="13.7" lengthAdjust="spacingAndGlyphs"  style="">High</text>
<line x1="454.2" y1="403.63" x2="454.2" y2="428.36" stroke="#222" stroke-width="0.85" stroke-dasharray="3.2,1.9"/>
<line x1="454.2" y1="463.69" x2="454.2" y2="495.87" stroke="#222" stroke-width="0.85" stroke-dasharray="3.2,1.9"/>
<line x1="446" y1="403.63" x2="462.4" y2="403.63" stroke="#222" stroke-width="0.8" />
<line x1="446" y1="495.87" x2="462.4" y2="495.87" stroke="#222" stroke-width="0.8" />
<rect x="436.9" y="428.36" width="34.6" height="35.32" fill="#0f4e84" stroke="none" stroke-width="0.8" />
<line x1="436.9" y1="447.99" x2="471.5" y2="447.99" stroke="#3a1a22" stroke-width="1.0" />
<line x1="454.2" y1="504.5" x2="454.2" y2="507" stroke="#222" stroke-width="0.7" />
<text x="454.2" y="516.9" font-size="7.0" text-anchor="middle" fill="#333" font-weight="normal" stroke="#333" stroke-width="0.12" textLength="11.5" lengthAdjust="spacingAndGlyphs"  style="">Low</text>
<text x="431.7" y="389.4" font-size="6.8" text-anchor="middle" fill="#333" font-weight="normal" stroke="#333" stroke-width="0.12"  style=""><tspan font-style="italic">P</tspan> = .7</text>
<line x1="384.5" y1="540.6" x2="384.5" y2="652" stroke="#222" stroke-width="1.0" />
<line x1="384" y1="651.5" x2="480.1" y2="651.5" stroke="#222" stroke-width="1.0" />
<line x1="382" y1="563.7" x2="384.5" y2="563.7" stroke="#222" stroke-width="0.8" />
<text x="378.2" y="566.2" font-size="6.9" text-anchor="end" fill="#333" font-weight="normal" stroke="#333" stroke-width="0.12" textLength="9.4" lengthAdjust="spacingAndGlyphs"  style="">0.5</text>
<line x1="382" y1="596.6" x2="384.5" y2="596.6" stroke="#222" stroke-width="0.8" />
<text x="378.2" y="599.1" font-size="6.9" text-anchor="end" fill="#333" font-weight="normal" stroke="#333" stroke-width="0.12" textLength="9.4" lengthAdjust="spacingAndGlyphs"  style="">0.0</text>
<line x1="382" y1="629.5" x2="384.5" y2="629.5" stroke="#222" stroke-width="0.8" />
<text x="378.2" y="632" font-size="6.9" text-anchor="end" fill="#333" font-weight="normal" stroke="#333" stroke-width="0.12" textLength="12.6" lengthAdjust="spacingAndGlyphs"  style="">−0.5</text>
<text transform="translate(360.47,596) rotate(-90)" x="0" y="0" font-size="8.2" text-anchor="middle" fill="#333" stroke="#333" stroke-width="0.12" textLength="78" lengthAdjust="spacingAndGlyphs">Exhausted T-cell signature</text>
<line x1="409.2" y1="545.93" x2="409.2" y2="555.8" stroke="#222" stroke-width="0.85" stroke-dasharray="3.2,1.9"/>
<line x1="409.2" y1="624.24" x2="409.2" y2="646.61" stroke="#222" stroke-width="0.85" stroke-dasharray="3.2,1.9"/>
<line x1="401" y1="545.93" x2="417.4" y2="545.93" stroke="#222" stroke-width="0.8" />
<line x1="401" y1="646.61" x2="417.4" y2="646.61" stroke="#222" stroke-width="0.8" />
<rect x="391.9" y="555.8" width="34.6" height="68.43" fill="#c8153a" stroke="none" stroke-width="0.8" />
<line x1="391.9" y1="584.76" x2="426.5" y2="584.76" stroke="#3a1a22" stroke-width="1.0" />
<line x1="409.2" y1="651.5" x2="409.2" y2="654" stroke="#222" stroke-width="0.7" />
<text x="409.2" y="663.9" font-size="7.0" text-anchor="middle" fill="#333" font-weight="normal" stroke="#333" stroke-width="0.12" textLength="13.7" lengthAdjust="spacingAndGlyphs"  style="">High</text>
<line x1="454.2" y1="545.28" x2="454.2" y2="591.34" stroke="#222" stroke-width="0.85" stroke-dasharray="3.2,1.9"/>
<line x1="454.2" y1="634.76" x2="454.2" y2="646.61" stroke="#222" stroke-width="0.85" stroke-dasharray="3.2,1.9"/>
<line x1="446" y1="545.28" x2="462.4" y2="545.28" stroke="#222" stroke-width="0.8" />
<line x1="446" y1="646.61" x2="462.4" y2="646.61" stroke="#222" stroke-width="0.8" />
<rect x="436.9" y="591.34" width="34.6" height="43.43" fill="#0f4e84" stroke="none" stroke-width="0.8" />
<line x1="436.9" y1="613.71" x2="471.5" y2="613.71" stroke="#3a1a22" stroke-width="1.0" />
<line x1="454.2" y1="651.5" x2="454.2" y2="654" stroke="#222" stroke-width="0.7" />
<text x="454.2" y="663.9" font-size="7.0" text-anchor="middle" fill="#333" font-weight="normal" stroke="#333" stroke-width="0.12" textLength="11.5" lengthAdjust="spacingAndGlyphs"  style="">Low</text>
<text x="431.7" y="536.1" font-size="6.8" text-anchor="middle" fill="#333" font-weight="normal" stroke="#333" stroke-width="0.12"  style=""><tspan font-style="italic">P</tspan> = .002</text>
<rect x="0.5" y="0.5" width="519" height="712" fill="none" stroke="#5c5c5c" stroke-width="1"/>
</svg>
</body></html>
